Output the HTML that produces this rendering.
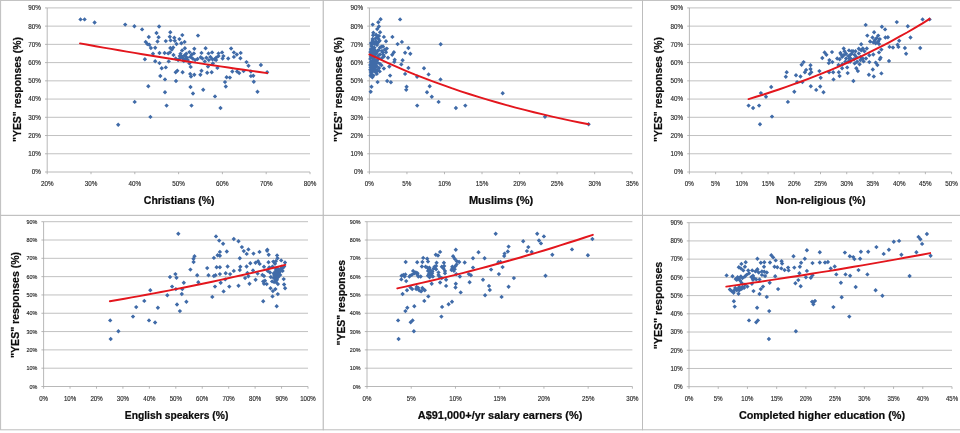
<!DOCTYPE html>
<html lang="en"><head><meta charset="utf-8"><title>"YES" responses vs demographics</title>
<style>html,body{margin:0;padding:0;background:#fff}body{width:960px;height:433px;overflow:hidden}svg{display:block}text{font-family:"Liberation Sans",sans-serif}.tl{fill:#262626;stroke:#262626;stroke-width:.14px}.ti{font-weight:bold;fill:#0c0c0c;font-size:11.2px;stroke:#0c0c0c;stroke-width:.22px}.g{stroke:#bababa;stroke-width:.9;fill:none}.ax{stroke:#a6a6a6;stroke-width:.8;fill:none}.bx{stroke:#bdbdbd;stroke-width:1;fill:#fff}.tr{stroke:#e3161d;stroke-width:1.95;fill:none;stroke-linecap:round;stroke-linejoin:round}.p{fill:#406ba8}</style></head><body>
<svg width="960" height="433" viewBox="0 0 960 433">
<rect width="960" height="433" fill="#fff"/>
<g>
<rect class="bx" x="0.6" y="0.4" width="322.7" height="215.0"/>
<path class="g" d="M47.2 7.90H310.0M47.2 26.13H310.0M47.2 44.37H310.0M47.2 62.60H310.0M47.2 80.83H310.0M47.2 99.07H310.0M47.2 117.30H310.0M47.2 135.53H310.0M47.2 153.77H310.0"/>
<path class="ax" d="M47.2 7.90V172.00M47.2 172.00H310.0M45.0 7.90H47.2M45.0 26.13H47.2M45.0 44.37H47.2M45.0 62.60H47.2M45.0 80.83H47.2M45.0 99.07H47.2M45.0 117.30H47.2M45.0 135.53H47.2M45.0 153.77H47.2M45.0 172.00H47.2M47.20 172.00V174.20M91.00 172.00V174.20M134.80 172.00V174.20M178.60 172.00V174.20M222.40 172.00V174.20M266.20 172.00V174.20M310.00 172.00V174.20"/>
<text class="tl" x="40.8" y="10.28" font-size="6.6" text-anchor="end" textLength="12.6" lengthAdjust="spacingAndGlyphs">90%</text>
<text class="tl" x="40.8" y="28.51" font-size="6.6" text-anchor="end" textLength="12.6" lengthAdjust="spacingAndGlyphs">80%</text>
<text class="tl" x="40.8" y="46.74" font-size="6.6" text-anchor="end" textLength="12.6" lengthAdjust="spacingAndGlyphs">70%</text>
<text class="tl" x="40.8" y="64.98" font-size="6.6" text-anchor="end" textLength="12.6" lengthAdjust="spacingAndGlyphs">60%</text>
<text class="tl" x="40.8" y="83.21" font-size="6.6" text-anchor="end" textLength="12.6" lengthAdjust="spacingAndGlyphs">50%</text>
<text class="tl" x="40.8" y="101.44" font-size="6.6" text-anchor="end" textLength="12.6" lengthAdjust="spacingAndGlyphs">40%</text>
<text class="tl" x="40.8" y="119.68" font-size="6.6" text-anchor="end" textLength="12.6" lengthAdjust="spacingAndGlyphs">30%</text>
<text class="tl" x="40.8" y="137.91" font-size="6.6" text-anchor="end" textLength="12.6" lengthAdjust="spacingAndGlyphs">20%</text>
<text class="tl" x="40.8" y="156.14" font-size="6.6" text-anchor="end" textLength="12.6" lengthAdjust="spacingAndGlyphs">10%</text>
<text class="tl" x="40.8" y="174.38" font-size="6.6" text-anchor="end" textLength="9.1" lengthAdjust="spacingAndGlyphs">0%</text>
<text class="tl" x="47.2" y="185.9" font-size="6.6" text-anchor="middle" textLength="12.6" lengthAdjust="spacingAndGlyphs">20%</text>
<text class="tl" x="91.0" y="185.9" font-size="6.6" text-anchor="middle" textLength="12.6" lengthAdjust="spacingAndGlyphs">30%</text>
<text class="tl" x="134.8" y="185.9" font-size="6.6" text-anchor="middle" textLength="12.6" lengthAdjust="spacingAndGlyphs">40%</text>
<text class="tl" x="178.6" y="185.9" font-size="6.6" text-anchor="middle" textLength="12.6" lengthAdjust="spacingAndGlyphs">50%</text>
<text class="tl" x="222.4" y="185.9" font-size="6.6" text-anchor="middle" textLength="12.6" lengthAdjust="spacingAndGlyphs">60%</text>
<text class="tl" x="266.2" y="185.9" font-size="6.6" text-anchor="middle" textLength="12.6" lengthAdjust="spacingAndGlyphs">70%</text>
<text class="tl" x="310.0" y="185.9" font-size="6.6" text-anchor="middle" textLength="12.6" lengthAdjust="spacingAndGlyphs">80%</text>
<text class="ti" x="179.2" y="203.8" text-anchor="middle" textLength="70.8" lengthAdjust="spacingAndGlyphs">Christians (%)</text>
<text class="ti" transform="translate(20.5 89.5) rotate(-90)" text-anchor="middle" textLength="105.0" lengthAdjust="spacingAndGlyphs">&quot;YES&quot; responses (%)</text>
<path class="p" d="M80.5 17.2l2.2 2.2l-2.2 2.2l-2.2-2.2zM84.6 17.2l2.2 2.2l-2.2 2.2l-2.2-2.2zM94.6 20.3l2.2 2.2l-2.2 2.2l-2.2-2.2zM125.2 22.4l2.2 2.2l-2.2 2.2l-2.2-2.2zM134.4 24.0l2.2 2.2l-2.2 2.2l-2.2-2.2zM142.1 27.2l2.2 2.2l-2.2 2.2l-2.2-2.2zM159.1 24.3l2.2 2.2l-2.2 2.2l-2.2-2.2zM156.5 30.8l2.2 2.2l-2.2 2.2l-2.2-2.2zM170.3 30.1l2.2 2.2l-2.2 2.2l-2.2-2.2zM148.8 34.8l2.2 2.2l-2.2 2.2l-2.2-2.2zM158.6 35.0l2.2 2.2l-2.2 2.2l-2.2-2.2zM169.8 34.5l2.2 2.2l-2.2 2.2l-2.2-2.2zM174.3 35.6l2.2 2.2l-2.2 2.2l-2.2-2.2zM145.7 39.7l2.2 2.2l-2.2 2.2l-2.2-2.2zM157.5 39.3l2.2 2.2l-2.2 2.2l-2.2-2.2zM165.8 38.9l2.2 2.2l-2.2 2.2l-2.2-2.2zM170.6 38.2l2.2 2.2l-2.2 2.2l-2.2-2.2zM174.8 38.5l2.2 2.2l-2.2 2.2l-2.2-2.2zM147.3 41.8l2.2 2.2l-2.2 2.2l-2.2-2.2zM149.3 42.6l2.2 2.2l-2.2 2.2l-2.2-2.2zM150.9 45.8l2.2 2.2l-2.2 2.2l-2.2-2.2zM155.2 45.5l2.2 2.2l-2.2 2.2l-2.2-2.2zM170.3 45.8l2.2 2.2l-2.2 2.2l-2.2-2.2zM173.2 45.3l2.2 2.2l-2.2 2.2l-2.2-2.2zM171.9 47.4l2.2 2.2l-2.2 2.2l-2.2-2.2zM153.0 51.5l2.2 2.2l-2.2 2.2l-2.2-2.2zM159.5 50.8l2.2 2.2l-2.2 2.2l-2.2-2.2zM164.6 50.8l2.2 2.2l-2.2 2.2l-2.2-2.2zM168.2 51.2l2.2 2.2l-2.2 2.2l-2.2-2.2zM170.0 50.2l2.2 2.2l-2.2 2.2l-2.2-2.2zM173.5 52.8l2.2 2.2l-2.2 2.2l-2.2-2.2zM144.9 57.1l2.2 2.2l-2.2 2.2l-2.2-2.2zM155.2 59.1l2.2 2.2l-2.2 2.2l-2.2-2.2zM159.5 60.9l2.2 2.2l-2.2 2.2l-2.2-2.2zM168.7 59.2l2.2 2.2l-2.2 2.2l-2.2-2.2zM161.7 66.0l2.2 2.2l-2.2 2.2l-2.2-2.2zM165.8 65.2l2.2 2.2l-2.2 2.2l-2.2-2.2zM179.4 36.9l2.2 2.2l-2.2 2.2l-2.2-2.2zM182.3 32.9l2.2 2.2l-2.2 2.2l-2.2-2.2zM198.0 33.4l2.2 2.2l-2.2 2.2l-2.2-2.2zM176.5 41.8l2.2 2.2l-2.2 2.2l-2.2-2.2zM181.3 41.0l2.2 2.2l-2.2 2.2l-2.2-2.2zM184.6 39.7l2.2 2.2l-2.2 2.2l-2.2-2.2zM184.9 46.1l2.2 2.2l-2.2 2.2l-2.2-2.2zM194.3 46.6l2.2 2.2l-2.2 2.2l-2.2-2.2zM205.6 46.1l2.2 2.2l-2.2 2.2l-2.2-2.2zM179.7 53.9l2.2 2.2l-2.2 2.2l-2.2-2.2zM182.1 55.0l2.2 2.2l-2.2 2.2l-2.2-2.2zM186.2 54.7l2.2 2.2l-2.2 2.2l-2.2-2.2zM191.8 52.3l2.2 2.2l-2.2 2.2l-2.2-2.2zM193.9 51.2l2.2 2.2l-2.2 2.2l-2.2-2.2zM201.5 50.7l2.2 2.2l-2.2 2.2l-2.2-2.2zM208.5 51.2l2.2 2.2l-2.2 2.2l-2.2-2.2zM212.1 50.2l2.2 2.2l-2.2 2.2l-2.2-2.2zM218.5 51.2l2.2 2.2l-2.2 2.2l-2.2-2.2zM222.1 50.2l2.2 2.2l-2.2 2.2l-2.2-2.2zM231.1 46.3l2.2 2.2l-2.2 2.2l-2.2-2.2zM233.9 50.2l2.2 2.2l-2.2 2.2l-2.2-2.2zM240.7 50.7l2.2 2.2l-2.2 2.2l-2.2-2.2zM236.8 52.3l2.2 2.2l-2.2 2.2l-2.2-2.2zM240.4 56.0l2.2 2.2l-2.2 2.2l-2.2-2.2zM178.1 57.9l2.2 2.2l-2.2 2.2l-2.2-2.2zM182.9 56.3l2.2 2.2l-2.2 2.2l-2.2-2.2zM187.8 57.9l2.2 2.2l-2.2 2.2l-2.2-2.2zM192.6 56.3l2.2 2.2l-2.2 2.2l-2.2-2.2zM197.5 56.8l2.2 2.2l-2.2 2.2l-2.2-2.2zM200.7 55.0l2.2 2.2l-2.2 2.2l-2.2-2.2zM204.8 59.2l2.2 2.2l-2.2 2.2l-2.2-2.2zM208.8 57.9l2.2 2.2l-2.2 2.2l-2.2-2.2zM212.4 57.1l2.2 2.2l-2.2 2.2l-2.2-2.2zM216.1 55.5l2.2 2.2l-2.2 2.2l-2.2-2.2zM222.6 56.3l2.2 2.2l-2.2 2.2l-2.2-2.2zM216.1 57.9l2.2 2.2l-2.2 2.2l-2.2-2.2zM189.4 61.2l2.2 2.2l-2.2 2.2l-2.2-2.2zM190.7 64.7l2.2 2.2l-2.2 2.2l-2.2-2.2zM208.0 64.4l2.2 2.2l-2.2 2.2l-2.2-2.2zM212.9 61.2l2.2 2.2l-2.2 2.2l-2.2-2.2zM217.4 65.7l2.2 2.2l-2.2 2.2l-2.2-2.2zM246.5 59.9l2.2 2.2l-2.2 2.2l-2.2-2.2zM248.5 63.6l2.2 2.2l-2.2 2.2l-2.2-2.2zM260.9 62.8l2.2 2.2l-2.2 2.2l-2.2-2.2zM177.3 68.5l2.2 2.2l-2.2 2.2l-2.2-2.2zM175.7 70.1l2.2 2.2l-2.2 2.2l-2.2-2.2zM182.6 70.1l2.2 2.2l-2.2 2.2l-2.2-2.2zM201.5 68.5l2.2 2.2l-2.2 2.2l-2.2-2.2zM190.2 71.7l2.2 2.2l-2.2 2.2l-2.2-2.2zM194.3 72.5l2.2 2.2l-2.2 2.2l-2.2-2.2zM200.4 72.5l2.2 2.2l-2.2 2.2l-2.2-2.2zM207.2 70.6l2.2 2.2l-2.2 2.2l-2.2-2.2zM211.7 70.1l2.2 2.2l-2.2 2.2l-2.2-2.2zM232.3 69.3l2.2 2.2l-2.2 2.2l-2.2-2.2zM237.1 69.3l2.2 2.2l-2.2 2.2l-2.2-2.2zM239.2 70.9l2.2 2.2l-2.2 2.2l-2.2-2.2zM243.6 68.9l2.2 2.2l-2.2 2.2l-2.2-2.2zM250.9 69.3l2.2 2.2l-2.2 2.2l-2.2-2.2zM267.1 70.1l2.2 2.2l-2.2 2.2l-2.2-2.2zM160.3 73.8l2.2 2.2l-2.2 2.2l-2.2-2.2zM165.0 77.2l2.2 2.2l-2.2 2.2l-2.2-2.2zM148.3 84.0l2.2 2.2l-2.2 2.2l-2.2-2.2zM165.0 90.0l2.2 2.2l-2.2 2.2l-2.2-2.2zM134.7 99.7l2.2 2.2l-2.2 2.2l-2.2-2.2zM166.6 103.4l2.2 2.2l-2.2 2.2l-2.2-2.2zM150.4 114.7l2.2 2.2l-2.2 2.2l-2.2-2.2zM118.2 122.5l2.2 2.2l-2.2 2.2l-2.2-2.2zM176.0 78.8l2.2 2.2l-2.2 2.2l-2.2-2.2zM190.5 84.8l2.2 2.2l-2.2 2.2l-2.2-2.2zM193.0 91.3l2.2 2.2l-2.2 2.2l-2.2-2.2zM203.2 87.5l2.2 2.2l-2.2 2.2l-2.2-2.2zM215.0 94.2l2.2 2.2l-2.2 2.2l-2.2-2.2zM191.5 103.4l2.2 2.2l-2.2 2.2l-2.2-2.2zM220.5 105.8l2.2 2.2l-2.2 2.2l-2.2-2.2zM225.8 84.3l2.2 2.2l-2.2 2.2l-2.2-2.2zM225.0 79.9l2.2 2.2l-2.2 2.2l-2.2-2.2zM226.6 75.1l2.2 2.2l-2.2 2.2l-2.2-2.2zM229.9 75.4l2.2 2.2l-2.2 2.2l-2.2-2.2zM253.8 79.6l2.2 2.2l-2.2 2.2l-2.2-2.2zM257.5 89.6l2.2 2.2l-2.2 2.2l-2.2-2.2zM250.9 73.9l2.2 2.2l-2.2 2.2l-2.2-2.2zM253.3 73.5l2.2 2.2l-2.2 2.2l-2.2-2.2zM191.0 74.3l2.2 2.2l-2.2 2.2l-2.2-2.2zM181.3 53.9l2.2 2.2l-2.2 2.2l-2.2-2.2zM184.6 53.1l2.2 2.2l-2.2 2.2l-2.2-2.2zM187.0 55.5l2.2 2.2l-2.2 2.2l-2.2-2.2zM183.8 58.8l2.2 2.2l-2.2 2.2l-2.2-2.2zM182.1 48.2l2.2 2.2l-2.2 2.2l-2.2-2.2zM180.5 51.5l2.2 2.2l-2.2 2.2l-2.2-2.2zM185.4 57.1l2.2 2.2l-2.2 2.2l-2.2-2.2zM190.2 54.7l2.2 2.2l-2.2 2.2l-2.2-2.2zM195.1 57.9l2.2 2.2l-2.2 2.2l-2.2-2.2zM179.7 56.3l2.2 2.2l-2.2 2.2l-2.2-2.2zM202.4 56.3l2.2 2.2l-2.2 2.2l-2.2-2.2zM206.4 55.5l2.2 2.2l-2.2 2.2l-2.2-2.2zM210.4 54.7l2.2 2.2l-2.2 2.2l-2.2-2.2zM214.5 57.1l2.2 2.2l-2.2 2.2l-2.2-2.2zM186.2 51.5l2.2 2.2l-2.2 2.2l-2.2-2.2zM189.4 49.9l2.2 2.2l-2.2 2.2l-2.2-2.2zM175.7 56.3l2.2 2.2l-2.2 2.2l-2.2-2.2zM223.4 53.9l2.2 2.2l-2.2 2.2l-2.2-2.2zM228.2 56.3l2.2 2.2l-2.2 2.2l-2.2-2.2zM233.9 54.7l2.2 2.2l-2.2 2.2l-2.2-2.2zM218.5 53.9l2.2 2.2l-2.2 2.2l-2.2-2.2z"/>
<path class="tr" d="M80.0 43.4L87.8 44.8L95.6 46.2L103.4 47.6L111.2 48.9L119.0 50.2L126.8 51.6L134.6 52.9L142.4 54.2L150.2 55.5L158.0 56.7L165.8 58.0L173.6 59.2L181.4 60.5L189.2 61.7L197.0 62.9L204.8 64.1L212.6 65.2L220.4 66.4L228.2 67.5L236.0 68.7L243.8 69.8L251.6 70.9L259.4 72.0L267.2 73.1"/>
</g>
<g>
<rect class="bx" x="323.3" y="0.4" width="319.2" height="215.0"/>
<path class="g" d="M369.4 7.90H632.2M369.4 26.13H632.2M369.4 44.37H632.2M369.4 62.60H632.2M369.4 80.83H632.2M369.4 99.07H632.2M369.4 117.30H632.2M369.4 135.53H632.2M369.4 153.77H632.2"/>
<path class="ax" d="M369.4 7.90V172.00M369.4 172.00H632.2M367.2 7.90H369.4M367.2 26.13H369.4M367.2 44.37H369.4M367.2 62.60H369.4M367.2 80.83H369.4M367.2 99.07H369.4M367.2 117.30H369.4M367.2 135.53H369.4M367.2 153.77H369.4M367.2 172.00H369.4M369.40 172.00V174.20M406.94 172.00V174.20M444.49 172.00V174.20M482.03 172.00V174.20M519.57 172.00V174.20M557.11 172.00V174.20M594.66 172.00V174.20M632.20 172.00V174.20"/>
<text class="tl" x="363.0" y="10.28" font-size="6.6" text-anchor="end" textLength="12.6" lengthAdjust="spacingAndGlyphs">90%</text>
<text class="tl" x="363.0" y="28.51" font-size="6.6" text-anchor="end" textLength="12.6" lengthAdjust="spacingAndGlyphs">80%</text>
<text class="tl" x="363.0" y="46.74" font-size="6.6" text-anchor="end" textLength="12.6" lengthAdjust="spacingAndGlyphs">70%</text>
<text class="tl" x="363.0" y="64.98" font-size="6.6" text-anchor="end" textLength="12.6" lengthAdjust="spacingAndGlyphs">60%</text>
<text class="tl" x="363.0" y="83.21" font-size="6.6" text-anchor="end" textLength="12.6" lengthAdjust="spacingAndGlyphs">50%</text>
<text class="tl" x="363.0" y="101.44" font-size="6.6" text-anchor="end" textLength="12.6" lengthAdjust="spacingAndGlyphs">40%</text>
<text class="tl" x="363.0" y="119.68" font-size="6.6" text-anchor="end" textLength="12.6" lengthAdjust="spacingAndGlyphs">30%</text>
<text class="tl" x="363.0" y="137.91" font-size="6.6" text-anchor="end" textLength="12.6" lengthAdjust="spacingAndGlyphs">20%</text>
<text class="tl" x="363.0" y="156.14" font-size="6.6" text-anchor="end" textLength="12.6" lengthAdjust="spacingAndGlyphs">10%</text>
<text class="tl" x="363.0" y="174.38" font-size="6.6" text-anchor="end" textLength="9.1" lengthAdjust="spacingAndGlyphs">0%</text>
<text class="tl" x="369.4" y="185.9" font-size="6.6" text-anchor="middle" textLength="9.1" lengthAdjust="spacingAndGlyphs">0%</text>
<text class="tl" x="406.9" y="185.9" font-size="6.6" text-anchor="middle" textLength="9.1" lengthAdjust="spacingAndGlyphs">5%</text>
<text class="tl" x="444.5" y="185.9" font-size="6.6" text-anchor="middle" textLength="12.6" lengthAdjust="spacingAndGlyphs">10%</text>
<text class="tl" x="482.0" y="185.9" font-size="6.6" text-anchor="middle" textLength="12.6" lengthAdjust="spacingAndGlyphs">15%</text>
<text class="tl" x="519.6" y="185.9" font-size="6.6" text-anchor="middle" textLength="12.6" lengthAdjust="spacingAndGlyphs">20%</text>
<text class="tl" x="557.1" y="185.9" font-size="6.6" text-anchor="middle" textLength="12.6" lengthAdjust="spacingAndGlyphs">25%</text>
<text class="tl" x="594.7" y="185.9" font-size="6.6" text-anchor="middle" textLength="12.6" lengthAdjust="spacingAndGlyphs">30%</text>
<text class="tl" x="632.2" y="185.9" font-size="6.6" text-anchor="middle" textLength="12.6" lengthAdjust="spacingAndGlyphs">35%</text>
<text class="ti" x="501.1" y="203.8" text-anchor="middle" textLength="64.3" lengthAdjust="spacingAndGlyphs">Muslims (%)</text>
<text class="ti" transform="translate(342.4 89.5) rotate(-90)" text-anchor="middle" textLength="105.0" lengthAdjust="spacingAndGlyphs">&quot;YES&quot; responses (%)</text>
<path class="p" d="M440.7 42.1l2.2 2.2l-2.2 2.2l-2.2-2.2zM408.4 45.8l2.2 2.2l-2.2 2.2l-2.2-2.2zM410.3 51.5l2.2 2.2l-2.2 2.2l-2.2-2.2zM408.4 65.7l2.2 2.2l-2.2 2.2l-2.2-2.2zM424.0 66.0l2.2 2.2l-2.2 2.2l-2.2-2.2zM428.6 72.2l2.2 2.2l-2.2 2.2l-2.2-2.2zM380.6 17.0l2.2 2.2l-2.2 2.2l-2.2-2.2zM400.1 17.2l2.2 2.2l-2.2 2.2l-2.2-2.2zM378.3 20.1l2.2 2.2l-2.2 2.2l-2.2-2.2zM372.7 22.4l2.2 2.2l-2.2 2.2l-2.2-2.2zM378.9 24.3l2.2 2.2l-2.2 2.2l-2.2-2.2zM377.2 26.9l2.2 2.2l-2.2 2.2l-2.2-2.2zM380.1 30.1l2.2 2.2l-2.2 2.2l-2.2-2.2zM373.3 30.5l2.2 2.2l-2.2 2.2l-2.2-2.2zM373.1 33.0l2.2 2.2l-2.2 2.2l-2.2-2.2zM378.9 33.8l2.2 2.2l-2.2 2.2l-2.2-2.2zM383.9 34.7l2.2 2.2l-2.2 2.2l-2.2-2.2zM392.4 34.7l2.2 2.2l-2.2 2.2l-2.2-2.2zM378.5 36.7l2.2 2.2l-2.2 2.2l-2.2-2.2zM386.0 39.1l2.2 2.2l-2.2 2.2l-2.2-2.2zM401.9 39.7l2.2 2.2l-2.2 2.2l-2.2-2.2zM397.6 41.9l2.2 2.2l-2.2 2.2l-2.2-2.2zM372.7 38.4l2.2 2.2l-2.2 2.2l-2.2-2.2zM376.0 39.2l2.2 2.2l-2.2 2.2l-2.2-2.2zM371.0 40.9l2.2 2.2l-2.2 2.2l-2.2-2.2zM374.3 41.7l2.2 2.2l-2.2 2.2l-2.2-2.2zM377.6 40.9l2.2 2.2l-2.2 2.2l-2.2-2.2zM371.8 44.2l2.2 2.2l-2.2 2.2l-2.2-2.2zM381.4 44.6l2.2 2.2l-2.2 2.2l-2.2-2.2zM405.1 50.5l2.2 2.2l-2.2 2.2l-2.2-2.2zM386.8 46.4l2.2 2.2l-2.2 2.2l-2.2-2.2zM393.9 50.1l2.2 2.2l-2.2 2.2l-2.2-2.2zM392.2 52.6l2.2 2.2l-2.2 2.2l-2.2-2.2zM382.6 50.1l2.2 2.2l-2.2 2.2l-2.2-2.2zM386.0 50.1l2.2 2.2l-2.2 2.2l-2.2-2.2zM371.0 46.8l2.2 2.2l-2.2 2.2l-2.2-2.2zM374.3 47.6l2.2 2.2l-2.2 2.2l-2.2-2.2zM377.6 48.5l2.2 2.2l-2.2 2.2l-2.2-2.2zM383.9 54.3l2.2 2.2l-2.2 2.2l-2.2-2.2zM388.0 55.5l2.2 2.2l-2.2 2.2l-2.2-2.2zM394.7 57.6l2.2 2.2l-2.2 2.2l-2.2-2.2zM394.3 59.7l2.2 2.2l-2.2 2.2l-2.2-2.2zM402.6 58.0l2.2 2.2l-2.2 2.2l-2.2-2.2zM401.3 62.2l2.2 2.2l-2.2 2.2l-2.2-2.2zM371.0 50.9l2.2 2.2l-2.2 2.2l-2.2-2.2zM374.3 52.6l2.2 2.2l-2.2 2.2l-2.2-2.2zM378.5 53.4l2.2 2.2l-2.2 2.2l-2.2-2.2zM371.0 55.1l2.2 2.2l-2.2 2.2l-2.2-2.2zM374.3 56.8l2.2 2.2l-2.2 2.2l-2.2-2.2zM377.6 57.6l2.2 2.2l-2.2 2.2l-2.2-2.2zM371.0 59.3l2.2 2.2l-2.2 2.2l-2.2-2.2zM374.3 60.1l2.2 2.2l-2.2 2.2l-2.2-2.2zM376.8 60.9l2.2 2.2l-2.2 2.2l-2.2-2.2zM381.4 63.0l2.2 2.2l-2.2 2.2l-2.2-2.2zM389.3 64.3l2.2 2.2l-2.2 2.2l-2.2-2.2zM383.9 66.3l2.2 2.2l-2.2 2.2l-2.2-2.2zM371.0 63.4l2.2 2.2l-2.2 2.2l-2.2-2.2zM373.5 65.1l2.2 2.2l-2.2 2.2l-2.2-2.2zM370.3 67.6l2.2 2.2l-2.2 2.2l-2.2-2.2zM372.7 69.2l2.2 2.2l-2.2 2.2l-2.2-2.2zM376.0 70.1l2.2 2.2l-2.2 2.2l-2.2-2.2zM379.7 69.2l2.2 2.2l-2.2 2.2l-2.2-2.2zM371.0 71.7l2.2 2.2l-2.2 2.2l-2.2-2.2zM373.5 73.4l2.2 2.2l-2.2 2.2l-2.2-2.2zM376.8 71.7l2.2 2.2l-2.2 2.2l-2.2-2.2zM390.1 73.4l2.2 2.2l-2.2 2.2l-2.2-2.2zM405.1 71.7l2.2 2.2l-2.2 2.2l-2.2-2.2zM372.3 75.1l2.2 2.2l-2.2 2.2l-2.2-2.2zM417.1 74.6l2.2 2.2l-2.2 2.2l-2.2-2.2zM440.5 77.2l2.2 2.2l-2.2 2.2l-2.2-2.2zM377.6 79.9l2.2 2.2l-2.2 2.2l-2.2-2.2zM387.2 78.8l2.2 2.2l-2.2 2.2l-2.2-2.2zM390.9 80.1l2.2 2.2l-2.2 2.2l-2.2-2.2zM371.5 84.5l2.2 2.2l-2.2 2.2l-2.2-2.2zM370.7 89.6l2.2 2.2l-2.2 2.2l-2.2-2.2zM406.6 84.5l2.2 2.2l-2.2 2.2l-2.2-2.2zM406.2 87.5l2.2 2.2l-2.2 2.2l-2.2-2.2zM429.7 84.0l2.2 2.2l-2.2 2.2l-2.2-2.2zM427.0 90.0l2.2 2.2l-2.2 2.2l-2.2-2.2zM431.8 94.5l2.2 2.2l-2.2 2.2l-2.2-2.2zM438.6 99.7l2.2 2.2l-2.2 2.2l-2.2-2.2zM417.2 103.4l2.2 2.2l-2.2 2.2l-2.2-2.2zM455.9 105.8l2.2 2.2l-2.2 2.2l-2.2-2.2zM465.3 103.4l2.2 2.2l-2.2 2.2l-2.2-2.2zM502.7 91.1l2.2 2.2l-2.2 2.2l-2.2-2.2zM545.0 114.5l2.2 2.2l-2.2 2.2l-2.2-2.2zM588.6 122.1l2.2 2.2l-2.2 2.2l-2.2-2.2zM370.4 49.9l2.2 2.2l-2.2 2.2l-2.2-2.2zM372.6 49.9l2.2 2.2l-2.2 2.2l-2.2-2.2zM374.4 49.2l2.2 2.2l-2.2 2.2l-2.2-2.2zM372.4 52.6l2.2 2.2l-2.2 2.2l-2.2-2.2zM375.1 52.0l2.2 2.2l-2.2 2.2l-2.2-2.2zM370.8 53.8l2.2 2.2l-2.2 2.2l-2.2-2.2zM372.8 54.6l2.2 2.2l-2.2 2.2l-2.2-2.2zM375.0 54.4l2.2 2.2l-2.2 2.2l-2.2-2.2zM370.3 56.7l2.2 2.2l-2.2 2.2l-2.2-2.2zM372.8 56.2l2.2 2.2l-2.2 2.2l-2.2-2.2zM372.9 59.1l2.2 2.2l-2.2 2.2l-2.2-2.2zM375.2 58.5l2.2 2.2l-2.2 2.2l-2.2-2.2zM371.0 60.7l2.2 2.2l-2.2 2.2l-2.2-2.2zM373.1 61.3l2.2 2.2l-2.2 2.2l-2.2-2.2zM370.3 62.7l2.2 2.2l-2.2 2.2l-2.2-2.2zM373.2 62.9l2.2 2.2l-2.2 2.2l-2.2-2.2zM374.6 63.0l2.2 2.2l-2.2 2.2l-2.2-2.2zM370.6 65.0l2.2 2.2l-2.2 2.2l-2.2-2.2zM375.0 65.7l2.2 2.2l-2.2 2.2l-2.2-2.2zM372.9 67.0l2.2 2.2l-2.2 2.2l-2.2-2.2zM375.3 67.9l2.2 2.2l-2.2 2.2l-2.2-2.2zM370.8 69.9l2.2 2.2l-2.2 2.2l-2.2-2.2zM374.6 69.1l2.2 2.2l-2.2 2.2l-2.2-2.2zM372.3 72.2l2.2 2.2l-2.2 2.2l-2.2-2.2zM370.6 73.6l2.2 2.2l-2.2 2.2l-2.2-2.2zM376.1 32.5l2.2 2.2l-2.2 2.2l-2.2-2.2zM372.6 36.8l2.2 2.2l-2.2 2.2l-2.2-2.2zM374.4 40.3l2.2 2.2l-2.2 2.2l-2.2-2.2zM377.8 35.1l2.2 2.2l-2.2 2.2l-2.2-2.2zM379.6 38.6l2.2 2.2l-2.2 2.2l-2.2-2.2zM377.0 42.9l2.2 2.2l-2.2 2.2l-2.2-2.2zM374.4 45.5l2.2 2.2l-2.2 2.2l-2.2-2.2zM378.7 48.1l2.2 2.2l-2.2 2.2l-2.2-2.2zM380.0 45.3l2.2 2.2l-2.2 2.2l-2.2-2.2zM383.0 44.3l2.2 2.2l-2.2 2.2l-2.2-2.2zM382.0 48.8l2.2 2.2l-2.2 2.2l-2.2-2.2zM385.0 47.3l2.2 2.2l-2.2 2.2l-2.2-2.2zM376.5 50.8l2.2 2.2l-2.2 2.2l-2.2-2.2zM380.0 52.3l2.2 2.2l-2.2 2.2l-2.2-2.2zM383.5 52.8l2.2 2.2l-2.2 2.2l-2.2-2.2zM378.0 55.3l2.2 2.2l-2.2 2.2l-2.2-2.2zM381.5 56.3l2.2 2.2l-2.2 2.2l-2.2-2.2zM377.5 60.3l2.2 2.2l-2.2 2.2l-2.2-2.2zM380.0 61.8l2.2 2.2l-2.2 2.2l-2.2-2.2zM376.5 63.8l2.2 2.2l-2.2 2.2l-2.2-2.2zM379.0 65.8l2.2 2.2l-2.2 2.2l-2.2-2.2zM377.0 68.3l2.2 2.2l-2.2 2.2l-2.2-2.2zM375.5 36.3l2.2 2.2l-2.2 2.2l-2.2-2.2zM376.0 40.8l2.2 2.2l-2.2 2.2l-2.2-2.2zM379.0 39.3l2.2 2.2l-2.2 2.2l-2.2-2.2zM371.5 42.8l2.2 2.2l-2.2 2.2l-2.2-2.2zM373.5 46.3l2.2 2.2l-2.2 2.2l-2.2-2.2zM371.0 47.8l2.2 2.2l-2.2 2.2l-2.2-2.2z"/>
<path class="tr" d="M369.4 54.4L378.5 58.7L387.7 62.9L396.8 66.9L405.9 70.8L415.1 74.6L424.2 78.1L433.4 81.6L442.5 84.9L451.6 88.2L460.8 91.3L469.9 94.2L479.1 97.1L488.2 99.9L497.3 102.5L506.5 105.1L515.6 107.6L524.7 109.9L533.9 112.2L543.0 114.4L552.2 116.6L561.3 118.6L570.4 120.6L579.6 122.5L588.7 124.3"/>
</g>
<g>
<rect class="bx" x="642.5" y="0.4" width="319.5" height="215.0"/>
<path class="g" d="M689.4 7.90H951.6M689.4 26.13H951.6M689.4 44.37H951.6M689.4 62.60H951.6M689.4 80.83H951.6M689.4 99.07H951.6M689.4 117.30H951.6M689.4 135.53H951.6M689.4 153.77H951.6"/>
<path class="ax" d="M689.4 7.90V172.00M689.4 172.00H951.6M687.2 7.90H689.4M687.2 26.13H689.4M687.2 44.37H689.4M687.2 62.60H689.4M687.2 80.83H689.4M687.2 99.07H689.4M687.2 117.30H689.4M687.2 135.53H689.4M687.2 153.77H689.4M687.2 172.00H689.4M689.40 172.00V174.20M715.62 172.00V174.20M741.84 172.00V174.20M768.06 172.00V174.20M794.28 172.00V174.20M820.50 172.00V174.20M846.72 172.00V174.20M872.94 172.00V174.20M899.16 172.00V174.20M925.38 172.00V174.20M951.60 172.00V174.20"/>
<text class="tl" x="683.0" y="10.28" font-size="6.6" text-anchor="end" textLength="12.6" lengthAdjust="spacingAndGlyphs">90%</text>
<text class="tl" x="683.0" y="28.51" font-size="6.6" text-anchor="end" textLength="12.6" lengthAdjust="spacingAndGlyphs">80%</text>
<text class="tl" x="683.0" y="46.74" font-size="6.6" text-anchor="end" textLength="12.6" lengthAdjust="spacingAndGlyphs">70%</text>
<text class="tl" x="683.0" y="64.98" font-size="6.6" text-anchor="end" textLength="12.6" lengthAdjust="spacingAndGlyphs">60%</text>
<text class="tl" x="683.0" y="83.21" font-size="6.6" text-anchor="end" textLength="12.6" lengthAdjust="spacingAndGlyphs">50%</text>
<text class="tl" x="683.0" y="101.44" font-size="6.6" text-anchor="end" textLength="12.6" lengthAdjust="spacingAndGlyphs">40%</text>
<text class="tl" x="683.0" y="119.68" font-size="6.6" text-anchor="end" textLength="12.6" lengthAdjust="spacingAndGlyphs">30%</text>
<text class="tl" x="683.0" y="137.91" font-size="6.6" text-anchor="end" textLength="12.6" lengthAdjust="spacingAndGlyphs">20%</text>
<text class="tl" x="683.0" y="156.14" font-size="6.6" text-anchor="end" textLength="12.6" lengthAdjust="spacingAndGlyphs">10%</text>
<text class="tl" x="683.0" y="174.38" font-size="6.6" text-anchor="end" textLength="9.1" lengthAdjust="spacingAndGlyphs">0%</text>
<text class="tl" x="689.4" y="185.9" font-size="6.6" text-anchor="middle" textLength="9.1" lengthAdjust="spacingAndGlyphs">0%</text>
<text class="tl" x="715.6" y="185.9" font-size="6.6" text-anchor="middle" textLength="9.1" lengthAdjust="spacingAndGlyphs">5%</text>
<text class="tl" x="741.8" y="185.9" font-size="6.6" text-anchor="middle" textLength="12.6" lengthAdjust="spacingAndGlyphs">10%</text>
<text class="tl" x="768.1" y="185.9" font-size="6.6" text-anchor="middle" textLength="12.6" lengthAdjust="spacingAndGlyphs">15%</text>
<text class="tl" x="794.3" y="185.9" font-size="6.6" text-anchor="middle" textLength="12.6" lengthAdjust="spacingAndGlyphs">20%</text>
<text class="tl" x="820.5" y="185.9" font-size="6.6" text-anchor="middle" textLength="12.6" lengthAdjust="spacingAndGlyphs">25%</text>
<text class="tl" x="846.7" y="185.9" font-size="6.6" text-anchor="middle" textLength="12.6" lengthAdjust="spacingAndGlyphs">30%</text>
<text class="tl" x="872.9" y="185.9" font-size="6.6" text-anchor="middle" textLength="12.6" lengthAdjust="spacingAndGlyphs">35%</text>
<text class="tl" x="899.2" y="185.9" font-size="6.6" text-anchor="middle" textLength="12.6" lengthAdjust="spacingAndGlyphs">40%</text>
<text class="tl" x="925.4" y="185.9" font-size="6.6" text-anchor="middle" textLength="12.6" lengthAdjust="spacingAndGlyphs">45%</text>
<text class="tl" x="951.6" y="185.9" font-size="6.6" text-anchor="middle" textLength="12.6" lengthAdjust="spacingAndGlyphs">50%</text>
<text class="ti" x="820.8" y="203.8" text-anchor="middle" textLength="89.4" lengthAdjust="spacingAndGlyphs">Non-religious (%)</text>
<text class="ti" transform="translate(662.4 89.5) rotate(-90)" text-anchor="middle" textLength="105.0" lengthAdjust="spacingAndGlyphs">&quot;YES&quot; responses (%)</text>
<path class="p" d="M843.7 46.3l2.2 2.2l-2.2 2.2l-2.2-2.2zM832.0 49.9l2.2 2.2l-2.2 2.2l-2.2-2.2zM824.6 50.2l2.2 2.2l-2.2 2.2l-2.2-2.2zM826.4 52.6l2.2 2.2l-2.2 2.2l-2.2-2.2zM822.3 55.8l2.2 2.2l-2.2 2.2l-2.2-2.2zM840.4 50.7l2.2 2.2l-2.2 2.2l-2.2-2.2zM846.1 51.5l2.2 2.2l-2.2 2.2l-2.2-2.2zM842.1 54.7l2.2 2.2l-2.2 2.2l-2.2-2.2zM846.1 56.3l2.2 2.2l-2.2 2.2l-2.2-2.2zM839.6 57.1l2.2 2.2l-2.2 2.2l-2.2-2.2zM829.4 57.9l2.2 2.2l-2.2 2.2l-2.2-2.2zM832.4 59.9l2.2 2.2l-2.2 2.2l-2.2-2.2zM828.8 60.9l2.2 2.2l-2.2 2.2l-2.2-2.2zM803.6 59.9l2.2 2.2l-2.2 2.2l-2.2-2.2zM801.6 62.5l2.2 2.2l-2.2 2.2l-2.2-2.2zM810.5 63.1l2.2 2.2l-2.2 2.2l-2.2-2.2zM838.5 62.8l2.2 2.2l-2.2 2.2l-2.2-2.2zM842.4 62.0l2.2 2.2l-2.2 2.2l-2.2-2.2zM847.2 65.2l2.2 2.2l-2.2 2.2l-2.2-2.2zM810.5 66.8l2.2 2.2l-2.2 2.2l-2.2-2.2zM806.1 67.7l2.2 2.2l-2.2 2.2l-2.2-2.2zM804.9 70.1l2.2 2.2l-2.2 2.2l-2.2-2.2zM811.3 70.1l2.2 2.2l-2.2 2.2l-2.2-2.2zM819.4 68.9l2.2 2.2l-2.2 2.2l-2.2-2.2zM829.1 70.1l2.2 2.2l-2.2 2.2l-2.2-2.2zM833.2 70.1l2.2 2.2l-2.2 2.2l-2.2-2.2zM838.8 70.1l2.2 2.2l-2.2 2.2l-2.2-2.2zM847.7 70.9l2.2 2.2l-2.2 2.2l-2.2-2.2zM786.7 70.1l2.2 2.2l-2.2 2.2l-2.2-2.2zM809.7 71.7l2.2 2.2l-2.2 2.2l-2.2-2.2zM922.6 17.2l2.2 2.2l-2.2 2.2l-2.2-2.2zM929.6 17.2l2.2 2.2l-2.2 2.2l-2.2-2.2zM896.8 19.9l2.2 2.2l-2.2 2.2l-2.2-2.2zM865.7 22.7l2.2 2.2l-2.2 2.2l-2.2-2.2zM881.9 24.5l2.2 2.2l-2.2 2.2l-2.2-2.2zM885.1 27.2l2.2 2.2l-2.2 2.2l-2.2-2.2zM907.8 24.0l2.2 2.2l-2.2 2.2l-2.2-2.2zM874.1 30.1l2.2 2.2l-2.2 2.2l-2.2-2.2zM867.3 33.4l2.2 2.2l-2.2 2.2l-2.2-2.2zM878.2 33.4l2.2 2.2l-2.2 2.2l-2.2-2.2zM910.5 35.3l2.2 2.2l-2.2 2.2l-2.2-2.2zM885.4 35.3l2.2 2.2l-2.2 2.2l-2.2-2.2zM887.9 35.0l2.2 2.2l-2.2 2.2l-2.2-2.2zM874.9 37.7l2.2 2.2l-2.2 2.2l-2.2-2.2zM870.1 39.3l2.2 2.2l-2.2 2.2l-2.2-2.2zM878.2 39.3l2.2 2.2l-2.2 2.2l-2.2-2.2zM899.2 38.5l2.2 2.2l-2.2 2.2l-2.2-2.2zM861.2 42.1l2.2 2.2l-2.2 2.2l-2.2-2.2zM879.0 41.8l2.2 2.2l-2.2 2.2l-2.2-2.2zM897.6 42.6l2.2 2.2l-2.2 2.2l-2.2-2.2zM898.4 44.7l2.2 2.2l-2.2 2.2l-2.2-2.2zM889.5 44.7l2.2 2.2l-2.2 2.2l-2.2-2.2zM893.0 45.3l2.2 2.2l-2.2 2.2l-2.2-2.2zM904.9 45.8l2.2 2.2l-2.2 2.2l-2.2-2.2zM920.2 45.8l2.2 2.2l-2.2 2.2l-2.2-2.2zM858.8 46.6l2.2 2.2l-2.2 2.2l-2.2-2.2zM862.8 46.3l2.2 2.2l-2.2 2.2l-2.2-2.2zM866.8 46.3l2.2 2.2l-2.2 2.2l-2.2-2.2zM881.4 47.4l2.2 2.2l-2.2 2.2l-2.2-2.2zM879.0 50.2l2.2 2.2l-2.2 2.2l-2.2-2.2zM906.1 51.5l2.2 2.2l-2.2 2.2l-2.2-2.2zM851.5 51.5l2.2 2.2l-2.2 2.2l-2.2-2.2zM854.7 52.8l2.2 2.2l-2.2 2.2l-2.2-2.2zM858.8 51.2l2.2 2.2l-2.2 2.2l-2.2-2.2zM869.3 53.1l2.2 2.2l-2.2 2.2l-2.2-2.2zM873.3 52.3l2.2 2.2l-2.2 2.2l-2.2-2.2zM850.7 56.3l2.2 2.2l-2.2 2.2l-2.2-2.2zM880.6 55.5l2.2 2.2l-2.2 2.2l-2.2-2.2zM879.8 57.1l2.2 2.2l-2.2 2.2l-2.2-2.2zM889.0 58.8l2.2 2.2l-2.2 2.2l-2.2-2.2zM857.1 59.6l2.2 2.2l-2.2 2.2l-2.2-2.2zM860.4 57.9l2.2 2.2l-2.2 2.2l-2.2-2.2zM863.6 59.2l2.2 2.2l-2.2 2.2l-2.2-2.2zM869.3 59.9l2.2 2.2l-2.2 2.2l-2.2-2.2zM875.7 60.4l2.2 2.2l-2.2 2.2l-2.2-2.2zM877.4 62.8l2.2 2.2l-2.2 2.2l-2.2-2.2zM856.3 66.0l2.2 2.2l-2.2 2.2l-2.2-2.2zM857.9 68.9l2.2 2.2l-2.2 2.2l-2.2-2.2zM872.8 67.3l2.2 2.2l-2.2 2.2l-2.2-2.2zM881.4 71.2l2.2 2.2l-2.2 2.2l-2.2-2.2zM868.9 72.5l2.2 2.2l-2.2 2.2l-2.2-2.2zM785.8 74.6l2.2 2.2l-2.2 2.2l-2.2-2.2zM796.0 73.0l2.2 2.2l-2.2 2.2l-2.2-2.2zM800.5 74.3l2.2 2.2l-2.2 2.2l-2.2-2.2zM820.7 75.6l2.2 2.2l-2.2 2.2l-2.2-2.2zM839.6 73.9l2.2 2.2l-2.2 2.2l-2.2-2.2zM833.5 77.2l2.2 2.2l-2.2 2.2l-2.2-2.2zM797.1 79.9l2.2 2.2l-2.2 2.2l-2.2-2.2zM802.4 79.9l2.2 2.2l-2.2 2.2l-2.2-2.2zM771.2 84.8l2.2 2.2l-2.2 2.2l-2.2-2.2zM810.8 84.0l2.2 2.2l-2.2 2.2l-2.2-2.2zM820.2 84.3l2.2 2.2l-2.2 2.2l-2.2-2.2zM816.2 87.7l2.2 2.2l-2.2 2.2l-2.2-2.2zM823.5 90.1l2.2 2.2l-2.2 2.2l-2.2-2.2zM794.3 89.6l2.2 2.2l-2.2 2.2l-2.2-2.2zM760.9 90.9l2.2 2.2l-2.2 2.2l-2.2-2.2zM766.0 94.5l2.2 2.2l-2.2 2.2l-2.2-2.2zM787.9 99.7l2.2 2.2l-2.2 2.2l-2.2-2.2zM748.6 103.4l2.2 2.2l-2.2 2.2l-2.2-2.2zM753.1 105.8l2.2 2.2l-2.2 2.2l-2.2-2.2zM759.1 103.4l2.2 2.2l-2.2 2.2l-2.2-2.2zM772.0 114.4l2.2 2.2l-2.2 2.2l-2.2-2.2zM760.0 122.0l2.2 2.2l-2.2 2.2l-2.2-2.2zM873.8 74.3l2.2 2.2l-2.2 2.2l-2.2-2.2zM853.4 78.8l2.2 2.2l-2.2 2.2l-2.2-2.2zM849.0 48.2l2.2 2.2l-2.2 2.2l-2.2-2.2zM853.1 49.0l2.2 2.2l-2.2 2.2l-2.2-2.2zM856.3 54.7l2.2 2.2l-2.2 2.2l-2.2-2.2zM860.4 54.7l2.2 2.2l-2.2 2.2l-2.2-2.2zM853.9 57.1l2.2 2.2l-2.2 2.2l-2.2-2.2zM849.9 53.1l2.2 2.2l-2.2 2.2l-2.2-2.2zM862.8 56.3l2.2 2.2l-2.2 2.2l-2.2-2.2zM866.0 56.3l2.2 2.2l-2.2 2.2l-2.2-2.2zM854.7 61.2l2.2 2.2l-2.2 2.2l-2.2-2.2zM859.6 62.0l2.2 2.2l-2.2 2.2l-2.2-2.2zM848.2 59.6l2.2 2.2l-2.2 2.2l-2.2-2.2zM872.5 35.3l2.2 2.2l-2.2 2.2l-2.2-2.2zM876.5 36.1l2.2 2.2l-2.2 2.2l-2.2-2.2zM875.7 41.0l2.2 2.2l-2.2 2.2l-2.2-2.2zM873.3 40.2l2.2 2.2l-2.2 2.2l-2.2-2.2zM879.8 36.9l2.2 2.2l-2.2 2.2l-2.2-2.2zM864.4 49.0l2.2 2.2l-2.2 2.2l-2.2-2.2zM861.2 48.2l2.2 2.2l-2.2 2.2l-2.2-2.2zM855.5 49.0l2.2 2.2l-2.2 2.2l-2.2-2.2zM843.7 53.1l2.2 2.2l-2.2 2.2l-2.2-2.2zM848.5 53.9l2.2 2.2l-2.2 2.2l-2.2-2.2zM844.5 49.0l2.2 2.2l-2.2 2.2l-2.2-2.2zM849.3 56.3l2.2 2.2l-2.2 2.2l-2.2-2.2zM851.8 49.0l2.2 2.2l-2.2 2.2l-2.2-2.2zM841.2 52.3l2.2 2.2l-2.2 2.2l-2.2-2.2zM837.2 56.3l2.2 2.2l-2.2 2.2l-2.2-2.2zM850.1 59.6l2.2 2.2l-2.2 2.2l-2.2-2.2zM845.3 59.6l2.2 2.2l-2.2 2.2l-2.2-2.2zM842.1 66.0l2.2 2.2l-2.2 2.2l-2.2-2.2z"/>
<path class="tr" d="M748.6 99.1L756.1 96.8L763.7 94.5L771.2 92.0L778.8 89.5L786.3 86.9L793.9 84.2L801.4 81.5L808.9 78.6L816.5 75.7L824.0 72.7L831.6 69.6L839.1 66.4L846.6 63.0L854.2 59.6L861.7 56.1L869.3 52.4L876.8 48.7L884.4 44.8L891.9 40.8L899.4 36.7L907.0 32.5L914.5 28.1L922.1 23.6L929.6 18.9"/>
</g>
<g>
<rect class="bx" x="0.6" y="215.4" width="322.7" height="214.4"/>
<path class="g" d="M43.6 221.70H308.0M43.6 240.01H308.0M43.6 258.32H308.0M43.6 276.63H308.0M43.6 294.94H308.0M43.6 313.26H308.0M43.6 331.57H308.0M43.6 349.88H308.0M43.6 368.19H308.0"/>
<path class="ax" d="M43.6 221.70V386.50M43.6 386.50H308.0M41.4 221.70H43.6M41.4 240.01H43.6M41.4 258.32H43.6M41.4 276.63H43.6M41.4 294.94H43.6M41.4 313.26H43.6M41.4 331.57H43.6M41.4 349.88H43.6M41.4 368.19H43.6M41.4 386.50H43.6M43.60 386.50V388.70M70.04 386.50V388.70M96.48 386.50V388.70M122.92 386.50V388.70M149.36 386.50V388.70M175.80 386.50V388.70M202.24 386.50V388.70M228.68 386.50V388.70M255.12 386.50V388.70M281.56 386.50V388.70M308.00 386.50V388.70"/>
<text class="tl" x="37.2" y="223.72" font-size="5.6" text-anchor="end" textLength="10.8" lengthAdjust="spacingAndGlyphs">90%</text>
<text class="tl" x="37.2" y="242.03" font-size="5.6" text-anchor="end" textLength="10.8" lengthAdjust="spacingAndGlyphs">80%</text>
<text class="tl" x="37.2" y="260.34" font-size="5.6" text-anchor="end" textLength="10.8" lengthAdjust="spacingAndGlyphs">70%</text>
<text class="tl" x="37.2" y="278.65" font-size="5.6" text-anchor="end" textLength="10.8" lengthAdjust="spacingAndGlyphs">60%</text>
<text class="tl" x="37.2" y="296.96" font-size="5.6" text-anchor="end" textLength="10.8" lengthAdjust="spacingAndGlyphs">50%</text>
<text class="tl" x="37.2" y="315.27" font-size="5.6" text-anchor="end" textLength="10.8" lengthAdjust="spacingAndGlyphs">40%</text>
<text class="tl" x="37.2" y="333.58" font-size="5.6" text-anchor="end" textLength="10.8" lengthAdjust="spacingAndGlyphs">30%</text>
<text class="tl" x="37.2" y="351.89" font-size="5.6" text-anchor="end" textLength="10.8" lengthAdjust="spacingAndGlyphs">20%</text>
<text class="tl" x="37.2" y="370.20" font-size="5.6" text-anchor="end" textLength="10.8" lengthAdjust="spacingAndGlyphs">10%</text>
<text class="tl" x="37.2" y="388.52" font-size="5.6" text-anchor="end" textLength="7.8" lengthAdjust="spacingAndGlyphs">0%</text>
<text class="tl" x="43.6" y="400.6" font-size="6.5" text-anchor="middle" textLength="8.8" lengthAdjust="spacingAndGlyphs">0%</text>
<text class="tl" x="70.0" y="400.6" font-size="6.5" text-anchor="middle" textLength="12.2" lengthAdjust="spacingAndGlyphs">10%</text>
<text class="tl" x="96.5" y="400.6" font-size="6.5" text-anchor="middle" textLength="12.2" lengthAdjust="spacingAndGlyphs">20%</text>
<text class="tl" x="122.9" y="400.6" font-size="6.5" text-anchor="middle" textLength="12.2" lengthAdjust="spacingAndGlyphs">30%</text>
<text class="tl" x="149.4" y="400.6" font-size="6.5" text-anchor="middle" textLength="12.2" lengthAdjust="spacingAndGlyphs">40%</text>
<text class="tl" x="175.8" y="400.6" font-size="6.5" text-anchor="middle" textLength="12.2" lengthAdjust="spacingAndGlyphs">50%</text>
<text class="tl" x="202.2" y="400.6" font-size="6.5" text-anchor="middle" textLength="12.2" lengthAdjust="spacingAndGlyphs">60%</text>
<text class="tl" x="228.7" y="400.6" font-size="6.5" text-anchor="middle" textLength="12.2" lengthAdjust="spacingAndGlyphs">70%</text>
<text class="tl" x="255.1" y="400.6" font-size="6.5" text-anchor="middle" textLength="12.2" lengthAdjust="spacingAndGlyphs">80%</text>
<text class="tl" x="281.6" y="400.6" font-size="6.5" text-anchor="middle" textLength="12.2" lengthAdjust="spacingAndGlyphs">90%</text>
<text class="tl" x="308.0" y="400.6" font-size="6.5" text-anchor="middle" textLength="15.6" lengthAdjust="spacingAndGlyphs">100%</text>
<text class="ti" x="176.6" y="418.6" text-anchor="middle" textLength="103.6" lengthAdjust="spacingAndGlyphs">English speakers (%)</text>
<text class="ti" transform="translate(18.9 304.9) rotate(-90)" text-anchor="middle" textLength="106.0" lengthAdjust="spacingAndGlyphs">&quot;YES&quot; responses (%)</text>
<path class="p" d="M178.3 231.5l2.2 2.2l-2.2 2.2l-2.2-2.2zM194.5 254.1l2.2 2.2l-2.2 2.2l-2.2-2.2zM193.5 256.5l2.2 2.2l-2.2 2.2l-2.2-2.2zM193.6 259.8l2.2 2.2l-2.2 2.2l-2.2-2.2zM190.4 267.4l2.2 2.2l-2.2 2.2l-2.2-2.2zM207.2 265.9l2.2 2.2l-2.2 2.2l-2.2-2.2zM175.4 271.9l2.2 2.2l-2.2 2.2l-2.2-2.2zM170.0 274.8l2.2 2.2l-2.2 2.2l-2.2-2.2zM176.5 275.6l2.2 2.2l-2.2 2.2l-2.2-2.2zM197.2 273.0l2.2 2.2l-2.2 2.2l-2.2-2.2zM208.5 273.0l2.2 2.2l-2.2 2.2l-2.2-2.2zM183.8 280.5l2.2 2.2l-2.2 2.2l-2.2-2.2zM198.3 280.0l2.2 2.2l-2.2 2.2l-2.2-2.2zM172.1 284.4l2.2 2.2l-2.2 2.2l-2.2-2.2zM175.9 286.9l2.2 2.2l-2.2 2.2l-2.2-2.2zM182.3 286.9l2.2 2.2l-2.2 2.2l-2.2-2.2zM150.3 288.1l2.2 2.2l-2.2 2.2l-2.2-2.2zM216.0 234.2l2.2 2.2l-2.2 2.2l-2.2-2.2zM219.2 238.4l2.2 2.2l-2.2 2.2l-2.2-2.2zM223.1 241.5l2.2 2.2l-2.2 2.2l-2.2-2.2zM233.8 236.8l2.2 2.2l-2.2 2.2l-2.2-2.2zM238.5 239.1l2.2 2.2l-2.2 2.2l-2.2-2.2zM241.9 244.9l2.2 2.2l-2.2 2.2l-2.2-2.2zM243.8 248.9l2.2 2.2l-2.2 2.2l-2.2-2.2zM248.4 247.2l2.2 2.2l-2.2 2.2l-2.2-2.2zM246.7 251.7l2.2 2.2l-2.2 2.2l-2.2-2.2zM253.5 251.4l2.2 2.2l-2.2 2.2l-2.2-2.2zM259.5 249.7l2.2 2.2l-2.2 2.2l-2.2-2.2zM267.3 247.6l2.2 2.2l-2.2 2.2l-2.2-2.2zM219.9 249.7l2.2 2.2l-2.2 2.2l-2.2-2.2zM226.8 249.3l2.2 2.2l-2.2 2.2l-2.2-2.2zM217.6 253.0l2.2 2.2l-2.2 2.2l-2.2-2.2zM213.9 255.7l2.2 2.2l-2.2 2.2l-2.2-2.2zM219.9 253.6l2.2 2.2l-2.2 2.2l-2.2-2.2zM239.8 256.0l2.2 2.2l-2.2 2.2l-2.2-2.2zM216.6 265.1l2.2 2.2l-2.2 2.2l-2.2-2.2zM219.9 265.1l2.2 2.2l-2.2 2.2l-2.2-2.2zM227.6 264.3l2.2 2.2l-2.2 2.2l-2.2-2.2zM240.3 264.6l2.2 2.2l-2.2 2.2l-2.2-2.2zM246.6 264.3l2.2 2.2l-2.2 2.2l-2.2-2.2zM250.3 261.1l2.2 2.2l-2.2 2.2l-2.2-2.2zM255.5 260.6l2.2 2.2l-2.2 2.2l-2.2-2.2zM258.1 259.0l2.2 2.2l-2.2 2.2l-2.2-2.2zM259.7 261.7l2.2 2.2l-2.2 2.2l-2.2-2.2zM264.0 264.6l2.2 2.2l-2.2 2.2l-2.2-2.2zM239.8 267.9l2.2 2.2l-2.2 2.2l-2.2-2.2zM233.8 268.7l2.2 2.2l-2.2 2.2l-2.2-2.2zM225.7 271.1l2.2 2.2l-2.2 2.2l-2.2-2.2zM230.1 271.9l2.2 2.2l-2.2 2.2l-2.2-2.2zM219.9 271.9l2.2 2.2l-2.2 2.2l-2.2-2.2zM215.5 273.0l2.2 2.2l-2.2 2.2l-2.2-2.2zM213.9 273.8l2.2 2.2l-2.2 2.2l-2.2-2.2zM247.4 270.8l2.2 2.2l-2.2 2.2l-2.2-2.2zM253.0 268.2l2.2 2.2l-2.2 2.2l-2.2-2.2zM257.6 271.4l2.2 2.2l-2.2 2.2l-2.2-2.2zM262.4 272.7l2.2 2.2l-2.2 2.2l-2.2-2.2zM264.0 273.8l2.2 2.2l-2.2 2.2l-2.2-2.2zM245.1 275.9l2.2 2.2l-2.2 2.2l-2.2-2.2zM248.4 274.0l2.2 2.2l-2.2 2.2l-2.2-2.2zM255.6 277.6l2.2 2.2l-2.2 2.2l-2.2-2.2zM220.7 280.5l2.2 2.2l-2.2 2.2l-2.2-2.2zM225.2 277.2l2.2 2.2l-2.2 2.2l-2.2-2.2zM215.0 284.4l2.2 2.2l-2.2 2.2l-2.2-2.2zM229.3 284.4l2.2 2.2l-2.2 2.2l-2.2-2.2zM238.5 283.6l2.2 2.2l-2.2 2.2l-2.2-2.2zM249.5 281.6l2.2 2.2l-2.2 2.2l-2.2-2.2zM263.2 279.2l2.2 2.2l-2.2 2.2l-2.2-2.2zM264.0 281.6l2.2 2.2l-2.2 2.2l-2.2-2.2zM223.6 289.2l2.2 2.2l-2.2 2.2l-2.2-2.2zM270.5 286.0l2.2 2.2l-2.2 2.2l-2.2-2.2zM272.9 288.9l2.2 2.2l-2.2 2.2l-2.2-2.2zM275.4 286.9l2.2 2.2l-2.2 2.2l-2.2-2.2zM285.1 286.0l2.2 2.2l-2.2 2.2l-2.2-2.2zM267.1 248.6l2.2 2.2l-2.2 2.2l-2.2-2.2zM268.7 252.6l2.2 2.2l-2.2 2.2l-2.2-2.2zM277.1 253.2l2.2 2.2l-2.2 2.2l-2.2-2.2zM277.5 256.1l2.2 2.2l-2.2 2.2l-2.2-2.2zM281.2 258.2l2.2 2.2l-2.2 2.2l-2.2-2.2zM285.0 260.3l2.2 2.2l-2.2 2.2l-2.2-2.2zM268.5 260.1l2.2 2.2l-2.2 2.2l-2.2-2.2zM273.3 259.4l2.2 2.2l-2.2 2.2l-2.2-2.2zM275.8 259.0l2.2 2.2l-2.2 2.2l-2.2-2.2zM275.0 261.5l2.2 2.2l-2.2 2.2l-2.2-2.2zM269.2 265.3l2.2 2.2l-2.2 2.2l-2.2-2.2zM272.5 264.4l2.2 2.2l-2.2 2.2l-2.2-2.2zM267.5 268.6l2.2 2.2l-2.2 2.2l-2.2-2.2zM270.0 270.3l2.2 2.2l-2.2 2.2l-2.2-2.2zM275.8 267.8l2.2 2.2l-2.2 2.2l-2.2-2.2zM278.3 266.9l2.2 2.2l-2.2 2.2l-2.2-2.2zM280.8 266.5l2.2 2.2l-2.2 2.2l-2.2-2.2zM282.9 265.7l2.2 2.2l-2.2 2.2l-2.2-2.2zM284.1 264.4l2.2 2.2l-2.2 2.2l-2.2-2.2zM275.0 270.3l2.2 2.2l-2.2 2.2l-2.2-2.2zM277.5 269.8l2.2 2.2l-2.2 2.2l-2.2-2.2zM279.6 269.0l2.2 2.2l-2.2 2.2l-2.2-2.2zM274.1 272.7l2.2 2.2l-2.2 2.2l-2.2-2.2zM276.6 272.7l2.2 2.2l-2.2 2.2l-2.2-2.2zM278.7 272.3l2.2 2.2l-2.2 2.2l-2.2-2.2zM270.8 274.8l2.2 2.2l-2.2 2.2l-2.2-2.2zM273.7 275.7l2.2 2.2l-2.2 2.2l-2.2-2.2zM276.2 275.2l2.2 2.2l-2.2 2.2l-2.2-2.2zM278.3 274.8l2.2 2.2l-2.2 2.2l-2.2-2.2zM283.7 276.9l2.2 2.2l-2.2 2.2l-2.2-2.2zM274.1 279.8l2.2 2.2l-2.2 2.2l-2.2-2.2zM275.8 277.7l2.2 2.2l-2.2 2.2l-2.2-2.2zM266.7 281.9l2.2 2.2l-2.2 2.2l-2.2-2.2zM277.9 281.9l2.2 2.2l-2.2 2.2l-2.2-2.2zM284.1 282.3l2.2 2.2l-2.2 2.2l-2.2-2.2zM265.0 278.6l2.2 2.2l-2.2 2.2l-2.2-2.2zM167.3 293.1l2.2 2.2l-2.2 2.2l-2.2-2.2zM181.8 291.8l2.2 2.2l-2.2 2.2l-2.2-2.2zM144.3 298.7l2.2 2.2l-2.2 2.2l-2.2-2.2zM186.4 299.6l2.2 2.2l-2.2 2.2l-2.2-2.2zM177.0 302.3l2.2 2.2l-2.2 2.2l-2.2-2.2zM136.2 304.9l2.2 2.2l-2.2 2.2l-2.2-2.2zM157.9 305.5l2.2 2.2l-2.2 2.2l-2.2-2.2zM179.9 308.9l2.2 2.2l-2.2 2.2l-2.2-2.2zM133.0 314.4l2.2 2.2l-2.2 2.2l-2.2-2.2zM110.2 318.2l2.2 2.2l-2.2 2.2l-2.2-2.2zM149.0 318.2l2.2 2.2l-2.2 2.2l-2.2-2.2zM155.1 320.3l2.2 2.2l-2.2 2.2l-2.2-2.2zM118.4 329.0l2.2 2.2l-2.2 2.2l-2.2-2.2zM110.7 336.8l2.2 2.2l-2.2 2.2l-2.2-2.2zM212.3 294.7l2.2 2.2l-2.2 2.2l-2.2-2.2zM263.2 299.1l2.2 2.2l-2.2 2.2l-2.2-2.2zM276.7 304.1l2.2 2.2l-2.2 2.2l-2.2-2.2zM272.5 294.2l2.2 2.2l-2.2 2.2l-2.2-2.2zM277.8 291.9l2.2 2.2l-2.2 2.2l-2.2-2.2zM276.2 266.2l2.2 2.2l-2.2 2.2l-2.2-2.2zM278.6 267.9l2.2 2.2l-2.2 2.2l-2.2-2.2zM277.0 271.1l2.2 2.2l-2.2 2.2l-2.2-2.2zM279.4 270.3l2.2 2.2l-2.2 2.2l-2.2-2.2zM275.4 273.5l2.2 2.2l-2.2 2.2l-2.2-2.2zM277.0 277.6l2.2 2.2l-2.2 2.2l-2.2-2.2zM281.8 264.6l2.2 2.2l-2.2 2.2l-2.2-2.2zM273.8 271.1l2.2 2.2l-2.2 2.2l-2.2-2.2zM272.1 279.2l2.2 2.2l-2.2 2.2l-2.2-2.2zM276.2 280.0l2.2 2.2l-2.2 2.2l-2.2-2.2zM280.2 272.7l2.2 2.2l-2.2 2.2l-2.2-2.2zM282.6 268.7l2.2 2.2l-2.2 2.2l-2.2-2.2z"/>
<path class="tr" d="M109.9 301.3L117.2 300.0L124.5 298.7L131.8 297.4L139.1 296.1L146.4 294.7L153.8 293.4L161.1 292.0L168.4 290.6L175.7 289.1L183.0 287.7L190.3 286.2L197.6 284.7L204.9 283.2L212.2 281.7L219.5 280.1L226.8 278.5L234.1 276.9L241.5 275.2L248.8 273.6L256.1 271.9L263.4 270.2L270.7 268.5L278.0 266.7L285.3 264.9"/>
</g>
<g>
<rect class="bx" x="323.3" y="215.4" width="319.2" height="214.4"/>
<path class="g" d="M367.0 221.70H632.4M367.0 240.01H632.4M367.0 258.32H632.4M367.0 276.63H632.4M367.0 294.94H632.4M367.0 313.26H632.4M367.0 331.57H632.4M367.0 349.88H632.4M367.0 368.19H632.4"/>
<path class="ax" d="M367.0 221.70V386.50M367.0 386.50H632.4M364.8 221.70H367.0M364.8 240.01H367.0M364.8 258.32H367.0M364.8 276.63H367.0M364.8 294.94H367.0M364.8 313.26H367.0M364.8 331.57H367.0M364.8 349.88H367.0M364.8 368.19H367.0M364.8 386.50H367.0M367.00 386.50V388.70M411.23 386.50V388.70M455.47 386.50V388.70M499.70 386.50V388.70M543.93 386.50V388.70M588.17 386.50V388.70M632.40 386.50V388.70"/>
<text class="tl" x="360.6" y="223.72" font-size="5.6" text-anchor="end" textLength="10.8" lengthAdjust="spacingAndGlyphs">90%</text>
<text class="tl" x="360.6" y="242.03" font-size="5.6" text-anchor="end" textLength="10.8" lengthAdjust="spacingAndGlyphs">80%</text>
<text class="tl" x="360.6" y="260.34" font-size="5.6" text-anchor="end" textLength="10.8" lengthAdjust="spacingAndGlyphs">70%</text>
<text class="tl" x="360.6" y="278.65" font-size="5.6" text-anchor="end" textLength="10.8" lengthAdjust="spacingAndGlyphs">60%</text>
<text class="tl" x="360.6" y="296.96" font-size="5.6" text-anchor="end" textLength="10.8" lengthAdjust="spacingAndGlyphs">50%</text>
<text class="tl" x="360.6" y="315.27" font-size="5.6" text-anchor="end" textLength="10.8" lengthAdjust="spacingAndGlyphs">40%</text>
<text class="tl" x="360.6" y="333.58" font-size="5.6" text-anchor="end" textLength="10.8" lengthAdjust="spacingAndGlyphs">30%</text>
<text class="tl" x="360.6" y="351.89" font-size="5.6" text-anchor="end" textLength="10.8" lengthAdjust="spacingAndGlyphs">20%</text>
<text class="tl" x="360.6" y="370.20" font-size="5.6" text-anchor="end" textLength="10.8" lengthAdjust="spacingAndGlyphs">10%</text>
<text class="tl" x="360.6" y="388.52" font-size="5.6" text-anchor="end" textLength="7.8" lengthAdjust="spacingAndGlyphs">0%</text>
<text class="tl" x="367.0" y="400.6" font-size="6.5" text-anchor="middle" textLength="8.9" lengthAdjust="spacingAndGlyphs">0%</text>
<text class="tl" x="411.2" y="400.6" font-size="6.5" text-anchor="middle" textLength="8.9" lengthAdjust="spacingAndGlyphs">5%</text>
<text class="tl" x="455.5" y="400.6" font-size="6.5" text-anchor="middle" textLength="12.3" lengthAdjust="spacingAndGlyphs">10%</text>
<text class="tl" x="499.7" y="400.6" font-size="6.5" text-anchor="middle" textLength="12.3" lengthAdjust="spacingAndGlyphs">15%</text>
<text class="tl" x="543.9" y="400.6" font-size="6.5" text-anchor="middle" textLength="12.3" lengthAdjust="spacingAndGlyphs">20%</text>
<text class="tl" x="588.2" y="400.6" font-size="6.5" text-anchor="middle" textLength="12.3" lengthAdjust="spacingAndGlyphs">25%</text>
<text class="tl" x="632.4" y="400.6" font-size="6.5" text-anchor="middle" textLength="12.3" lengthAdjust="spacingAndGlyphs">30%</text>
<text class="ti" x="500.1" y="418.6" text-anchor="middle" textLength="164.6" lengthAdjust="spacingAndGlyphs">A$91,000+/yr salary earners (%)</text>
<text class="ti" transform="translate(344.6 302.7) rotate(-90)" text-anchor="middle" textLength="85.5" lengthAdjust="spacingAndGlyphs">&quot;YES&quot; responses</text>
<path class="p" d="M455.8 247.6l2.2 2.2l-2.2 2.2l-2.2-2.2zM440.1 249.7l2.2 2.2l-2.2 2.2l-2.2-2.2zM478.5 250.1l2.2 2.2l-2.2 2.2l-2.2-2.2zM435.8 252.5l2.2 2.2l-2.2 2.2l-2.2-2.2zM438.0 253.3l2.2 2.2l-2.2 2.2l-2.2-2.2zM453.1 254.1l2.2 2.2l-2.2 2.2l-2.2-2.2zM454.7 256.5l2.2 2.2l-2.2 2.2l-2.2-2.2zM423.2 255.7l2.2 2.2l-2.2 2.2l-2.2-2.2zM427.2 256.5l2.2 2.2l-2.2 2.2l-2.2-2.2zM473.0 256.0l2.2 2.2l-2.2 2.2l-2.2-2.2zM484.6 256.0l2.2 2.2l-2.2 2.2l-2.2-2.2zM405.7 259.8l2.2 2.2l-2.2 2.2l-2.2-2.2zM417.2 260.1l2.2 2.2l-2.2 2.2l-2.2-2.2zM422.4 259.8l2.2 2.2l-2.2 2.2l-2.2-2.2zM428.0 259.4l2.2 2.2l-2.2 2.2l-2.2-2.2zM436.6 260.6l2.2 2.2l-2.2 2.2l-2.2-2.2zM443.9 260.6l2.2 2.2l-2.2 2.2l-2.2-2.2zM456.8 259.0l2.2 2.2l-2.2 2.2l-2.2-2.2zM459.2 259.8l2.2 2.2l-2.2 2.2l-2.2-2.2zM464.7 260.3l2.2 2.2l-2.2 2.2l-2.2-2.2zM421.9 264.3l2.2 2.2l-2.2 2.2l-2.2-2.2zM425.6 264.6l2.2 2.2l-2.2 2.2l-2.2-2.2zM429.3 265.4l2.2 2.2l-2.2 2.2l-2.2-2.2zM434.5 264.6l2.2 2.2l-2.2 2.2l-2.2-2.2zM441.8 264.6l2.2 2.2l-2.2 2.2l-2.2-2.2zM444.2 263.8l2.2 2.2l-2.2 2.2l-2.2-2.2zM452.3 264.6l2.2 2.2l-2.2 2.2l-2.2-2.2zM455.5 263.8l2.2 2.2l-2.2 2.2l-2.2-2.2zM456.6 262.2l2.2 2.2l-2.2 2.2l-2.2-2.2zM473.0 265.4l2.2 2.2l-2.2 2.2l-2.2-2.2zM491.1 267.4l2.2 2.2l-2.2 2.2l-2.2-2.2zM413.1 268.7l2.2 2.2l-2.2 2.2l-2.2-2.2zM415.9 270.3l2.2 2.2l-2.2 2.2l-2.2-2.2zM428.0 268.7l2.2 2.2l-2.2 2.2l-2.2-2.2zM430.4 267.9l2.2 2.2l-2.2 2.2l-2.2-2.2zM432.4 269.2l2.2 2.2l-2.2 2.2l-2.2-2.2zM436.1 267.0l2.2 2.2l-2.2 2.2l-2.2-2.2zM438.5 270.3l2.2 2.2l-2.2 2.2l-2.2-2.2zM445.0 268.7l2.2 2.2l-2.2 2.2l-2.2-2.2zM451.5 267.9l2.2 2.2l-2.2 2.2l-2.2-2.2zM453.9 268.7l2.2 2.2l-2.2 2.2l-2.2-2.2zM403.3 272.7l2.2 2.2l-2.2 2.2l-2.2-2.2zM405.4 272.2l2.2 2.2l-2.2 2.2l-2.2-2.2zM401.6 273.5l2.2 2.2l-2.2 2.2l-2.2-2.2zM410.2 273.5l2.2 2.2l-2.2 2.2l-2.2-2.2zM411.8 272.7l2.2 2.2l-2.2 2.2l-2.2-2.2zM417.5 272.7l2.2 2.2l-2.2 2.2l-2.2-2.2zM420.7 274.3l2.2 2.2l-2.2 2.2l-2.2-2.2zM428.8 271.9l2.2 2.2l-2.2 2.2l-2.2-2.2zM431.2 273.5l2.2 2.2l-2.2 2.2l-2.2-2.2zM438.5 272.7l2.2 2.2l-2.2 2.2l-2.2-2.2zM445.0 271.1l2.2 2.2l-2.2 2.2l-2.2-2.2zM456.3 271.9l2.2 2.2l-2.2 2.2l-2.2-2.2zM459.9 274.3l2.2 2.2l-2.2 2.2l-2.2-2.2zM468.8 271.9l2.2 2.2l-2.2 2.2l-2.2-2.2zM470.9 273.0l2.2 2.2l-2.2 2.2l-2.2-2.2zM401.3 277.2l2.2 2.2l-2.2 2.2l-2.2-2.2zM406.2 278.9l2.2 2.2l-2.2 2.2l-2.2-2.2zM418.3 274.3l2.2 2.2l-2.2 2.2l-2.2-2.2zM429.6 275.1l2.2 2.2l-2.2 2.2l-2.2-2.2zM441.8 275.9l2.2 2.2l-2.2 2.2l-2.2-2.2zM446.1 277.6l2.2 2.2l-2.2 2.2l-2.2-2.2zM431.7 281.6l2.2 2.2l-2.2 2.2l-2.2-2.2zM440.1 280.3l2.2 2.2l-2.2 2.2l-2.2-2.2zM483.0 277.6l2.2 2.2l-2.2 2.2l-2.2-2.2zM469.6 280.0l2.2 2.2l-2.2 2.2l-2.2-2.2zM455.8 281.6l2.2 2.2l-2.2 2.2l-2.2-2.2zM446.1 283.7l2.2 2.2l-2.2 2.2l-2.2-2.2zM455.5 285.3l2.2 2.2l-2.2 2.2l-2.2-2.2zM489.0 283.7l2.2 2.2l-2.2 2.2l-2.2-2.2zM410.5 285.3l2.2 2.2l-2.2 2.2l-2.2-2.2zM416.2 286.9l2.2 2.2l-2.2 2.2l-2.2-2.2zM418.3 285.7l2.2 2.2l-2.2 2.2l-2.2-2.2zM423.2 286.9l2.2 2.2l-2.2 2.2l-2.2-2.2zM421.1 289.2l2.2 2.2l-2.2 2.2l-2.2-2.2zM424.8 288.1l2.2 2.2l-2.2 2.2l-2.2-2.2zM407.0 288.1l2.2 2.2l-2.2 2.2l-2.2-2.2zM412.2 286.9l2.2 2.2l-2.2 2.2l-2.2-2.2zM460.7 290.2l2.2 2.2l-2.2 2.2l-2.2-2.2zM489.8 287.8l2.2 2.2l-2.2 2.2l-2.2-2.2zM495.7 231.5l2.2 2.2l-2.2 2.2l-2.2-2.2zM537.2 231.5l2.2 2.2l-2.2 2.2l-2.2-2.2zM543.9 234.2l2.2 2.2l-2.2 2.2l-2.2-2.2zM523.2 239.1l2.2 2.2l-2.2 2.2l-2.2-2.2zM539.0 238.3l2.2 2.2l-2.2 2.2l-2.2-2.2zM541.0 241.2l2.2 2.2l-2.2 2.2l-2.2-2.2zM592.4 236.8l2.2 2.2l-2.2 2.2l-2.2-2.2zM508.6 244.4l2.2 2.2l-2.2 2.2l-2.2-2.2zM528.3 244.9l2.2 2.2l-2.2 2.2l-2.2-2.2zM507.8 249.3l2.2 2.2l-2.2 2.2l-2.2-2.2zM526.9 248.9l2.2 2.2l-2.2 2.2l-2.2-2.2zM531.7 249.7l2.2 2.2l-2.2 2.2l-2.2-2.2zM572.0 247.2l2.2 2.2l-2.2 2.2l-2.2-2.2zM504.6 251.4l2.2 2.2l-2.2 2.2l-2.2-2.2zM504.2 253.8l2.2 2.2l-2.2 2.2l-2.2-2.2zM552.3 252.5l2.2 2.2l-2.2 2.2l-2.2-2.2zM587.9 253.0l2.2 2.2l-2.2 2.2l-2.2-2.2zM498.4 260.1l2.2 2.2l-2.2 2.2l-2.2-2.2zM500.5 259.8l2.2 2.2l-2.2 2.2l-2.2-2.2zM502.6 264.9l2.2 2.2l-2.2 2.2l-2.2-2.2zM498.9 271.9l2.2 2.2l-2.2 2.2l-2.2-2.2zM545.5 273.5l2.2 2.2l-2.2 2.2l-2.2-2.2zM513.9 275.9l2.2 2.2l-2.2 2.2l-2.2-2.2zM508.6 284.5l2.2 2.2l-2.2 2.2l-2.2-2.2zM402.6 291.8l2.2 2.2l-2.2 2.2l-2.2-2.2zM428.3 294.2l2.2 2.2l-2.2 2.2l-2.2-2.2zM424.3 298.7l2.2 2.2l-2.2 2.2l-2.2-2.2zM485.1 293.1l2.2 2.2l-2.2 2.2l-2.2-2.2zM452.0 299.6l2.2 2.2l-2.2 2.2l-2.2-2.2zM448.6 302.0l2.2 2.2l-2.2 2.2l-2.2-2.2zM442.1 304.7l2.2 2.2l-2.2 2.2l-2.2-2.2zM414.3 304.1l2.2 2.2l-2.2 2.2l-2.2-2.2zM407.3 305.5l2.2 2.2l-2.2 2.2l-2.2-2.2zM405.4 308.9l2.2 2.2l-2.2 2.2l-2.2-2.2zM441.4 314.4l2.2 2.2l-2.2 2.2l-2.2-2.2zM398.1 318.2l2.2 2.2l-2.2 2.2l-2.2-2.2zM412.6 318.2l2.2 2.2l-2.2 2.2l-2.2-2.2zM410.7 320.1l2.2 2.2l-2.2 2.2l-2.2-2.2zM413.9 329.0l2.2 2.2l-2.2 2.2l-2.2-2.2zM398.6 336.8l2.2 2.2l-2.2 2.2l-2.2-2.2zM501.6 294.7l2.2 2.2l-2.2 2.2l-2.2-2.2zM429.6 267.0l2.2 2.2l-2.2 2.2l-2.2-2.2zM432.1 271.1l2.2 2.2l-2.2 2.2l-2.2-2.2zM428.0 273.5l2.2 2.2l-2.2 2.2l-2.2-2.2zM430.4 270.3l2.2 2.2l-2.2 2.2l-2.2-2.2zM433.7 266.2l2.2 2.2l-2.2 2.2l-2.2-2.2zM427.2 265.4l2.2 2.2l-2.2 2.2l-2.2-2.2zM432.9 274.3l2.2 2.2l-2.2 2.2l-2.2-2.2zM452.3 266.2l2.2 2.2l-2.2 2.2l-2.2-2.2zM454.7 267.0l2.2 2.2l-2.2 2.2l-2.2-2.2zM453.9 265.4l2.2 2.2l-2.2 2.2l-2.2-2.2zM414.3 271.1l2.2 2.2l-2.2 2.2l-2.2-2.2zM417.5 271.1l2.2 2.2l-2.2 2.2l-2.2-2.2zM409.4 274.3l2.2 2.2l-2.2 2.2l-2.2-2.2zM404.6 274.3l2.2 2.2l-2.2 2.2l-2.2-2.2zM419.1 288.1l2.2 2.2l-2.2 2.2l-2.2-2.2zM416.7 284.8l2.2 2.2l-2.2 2.2l-2.2-2.2zM422.4 285.7l2.2 2.2l-2.2 2.2l-2.2-2.2zM436.1 263.8l2.2 2.2l-2.2 2.2l-2.2-2.2zM443.4 266.2l2.2 2.2l-2.2 2.2l-2.2-2.2zM439.3 274.3l2.2 2.2l-2.2 2.2l-2.2-2.2z"/>
<path class="tr" d="M397.3 288.4L405.4 286.6L413.6 284.8L421.7 282.9L429.9 281.0L438.0 279.1L446.2 277.1L454.3 275.1L462.5 273.1L470.6 271.0L478.8 268.9L486.9 266.7L495.0 264.5L503.2 262.3L511.3 260.0L519.5 257.7L527.6 255.3L535.8 252.9L543.9 250.5L552.1 248.0L560.2 245.4L568.4 242.8L576.5 240.2L584.7 237.5L592.8 234.8"/>
</g>
<g>
<rect class="bx" x="642.5" y="215.4" width="319.5" height="214.4"/>
<path class="g" d="M689.0 222.70H952.0M689.0 240.92H952.0M689.0 259.14H952.0M689.0 277.37H952.0M689.0 295.59H952.0M689.0 313.81H952.0M689.0 332.03H952.0M689.0 350.26H952.0M689.0 368.48H952.0"/>
<path class="ax" d="M689.0 222.70V386.70M689.0 386.70H952.0M686.8 222.70H689.0M686.8 240.92H689.0M686.8 259.14H689.0M686.8 277.37H689.0M686.8 295.59H689.0M686.8 313.81H689.0M686.8 332.03H689.0M686.8 350.26H689.0M686.8 368.48H689.0M686.8 386.70H689.0M689.00 386.70V388.90M718.22 386.70V388.90M747.44 386.70V388.90M776.67 386.70V388.90M805.89 386.70V388.90M835.11 386.70V388.90M864.33 386.70V388.90M893.56 386.70V388.90M922.78 386.70V388.90M952.00 386.70V388.90"/>
<text class="tl" x="682.6" y="225.00" font-size="6.4" text-anchor="end" textLength="12.1" lengthAdjust="spacingAndGlyphs">90%</text>
<text class="tl" x="682.6" y="243.23" font-size="6.4" text-anchor="end" textLength="12.1" lengthAdjust="spacingAndGlyphs">80%</text>
<text class="tl" x="682.6" y="261.45" font-size="6.4" text-anchor="end" textLength="12.1" lengthAdjust="spacingAndGlyphs">70%</text>
<text class="tl" x="682.6" y="279.67" font-size="6.4" text-anchor="end" textLength="12.1" lengthAdjust="spacingAndGlyphs">60%</text>
<text class="tl" x="682.6" y="297.89" font-size="6.4" text-anchor="end" textLength="12.1" lengthAdjust="spacingAndGlyphs">50%</text>
<text class="tl" x="682.6" y="316.12" font-size="6.4" text-anchor="end" textLength="12.1" lengthAdjust="spacingAndGlyphs">40%</text>
<text class="tl" x="682.6" y="334.34" font-size="6.4" text-anchor="end" textLength="12.1" lengthAdjust="spacingAndGlyphs">30%</text>
<text class="tl" x="682.6" y="352.56" font-size="6.4" text-anchor="end" textLength="12.1" lengthAdjust="spacingAndGlyphs">20%</text>
<text class="tl" x="682.6" y="370.78" font-size="6.4" text-anchor="end" textLength="12.1" lengthAdjust="spacingAndGlyphs">10%</text>
<text class="tl" x="682.6" y="389.00" font-size="6.4" text-anchor="end" textLength="8.7" lengthAdjust="spacingAndGlyphs">0%</text>
<text class="tl" x="689.0" y="400.6" font-size="6.4" text-anchor="middle" textLength="8.7" lengthAdjust="spacingAndGlyphs">0%</text>
<text class="tl" x="718.2" y="400.6" font-size="6.4" text-anchor="middle" textLength="8.7" lengthAdjust="spacingAndGlyphs">5%</text>
<text class="tl" x="747.4" y="400.6" font-size="6.4" text-anchor="middle" textLength="12.1" lengthAdjust="spacingAndGlyphs">10%</text>
<text class="tl" x="776.7" y="400.6" font-size="6.4" text-anchor="middle" textLength="12.1" lengthAdjust="spacingAndGlyphs">15%</text>
<text class="tl" x="805.9" y="400.6" font-size="6.4" text-anchor="middle" textLength="12.1" lengthAdjust="spacingAndGlyphs">20%</text>
<text class="tl" x="835.1" y="400.6" font-size="6.4" text-anchor="middle" textLength="12.1" lengthAdjust="spacingAndGlyphs">25%</text>
<text class="tl" x="864.3" y="400.6" font-size="6.4" text-anchor="middle" textLength="12.1" lengthAdjust="spacingAndGlyphs">30%</text>
<text class="tl" x="893.6" y="400.6" font-size="6.4" text-anchor="middle" textLength="12.1" lengthAdjust="spacingAndGlyphs">35%</text>
<text class="tl" x="922.8" y="400.6" font-size="6.4" text-anchor="middle" textLength="12.1" lengthAdjust="spacingAndGlyphs">40%</text>
<text class="tl" x="952.0" y="400.6" font-size="6.4" text-anchor="middle" textLength="12.1" lengthAdjust="spacingAndGlyphs">45%</text>
<text class="ti" x="822.0" y="418.6" text-anchor="middle" textLength="166.2" lengthAdjust="spacingAndGlyphs">Completed higher education (%)</text>
<text class="ti" transform="translate(661.7 305.5) rotate(-90)" text-anchor="middle" textLength="87.5" lengthAdjust="spacingAndGlyphs">&quot;YES&quot; responses</text>
<path class="p" d="M806.9 248.0l2.2 2.2l-2.2 2.2l-2.2-2.2zM819.8 250.1l2.2 2.2l-2.2 2.2l-2.2-2.2zM771.3 253.0l2.2 2.2l-2.2 2.2l-2.2-2.2zM773.2 255.2l2.2 2.2l-2.2 2.2l-2.2-2.2zM775.7 258.2l2.2 2.2l-2.2 2.2l-2.2-2.2zM793.5 254.1l2.2 2.2l-2.2 2.2l-2.2-2.2zM757.4 256.5l2.2 2.2l-2.2 2.2l-2.2-2.2zM804.8 256.5l2.2 2.2l-2.2 2.2l-2.2-2.2zM745.7 260.1l2.2 2.2l-2.2 2.2l-2.2-2.2zM741.4 261.7l2.2 2.2l-2.2 2.2l-2.2-2.2zM760.8 260.6l2.2 2.2l-2.2 2.2l-2.2-2.2zM764.3 260.1l2.2 2.2l-2.2 2.2l-2.2-2.2zM770.0 260.3l2.2 2.2l-2.2 2.2l-2.2-2.2zM781.6 259.0l2.2 2.2l-2.2 2.2l-2.2-2.2zM782.1 261.4l2.2 2.2l-2.2 2.2l-2.2-2.2zM801.1 260.6l2.2 2.2l-2.2 2.2l-2.2-2.2zM812.5 260.9l2.2 2.2l-2.2 2.2l-2.2-2.2zM819.8 260.3l2.2 2.2l-2.2 2.2l-2.2-2.2zM738.8 265.1l2.2 2.2l-2.2 2.2l-2.2-2.2zM740.9 266.2l2.2 2.2l-2.2 2.2l-2.2-2.2zM744.9 264.6l2.2 2.2l-2.2 2.2l-2.2-2.2zM764.0 264.6l2.2 2.2l-2.2 2.2l-2.2-2.2zM774.5 264.6l2.2 2.2l-2.2 2.2l-2.2-2.2zM777.3 265.1l2.2 2.2l-2.2 2.2l-2.2-2.2zM781.3 266.2l2.2 2.2l-2.2 2.2l-2.2-2.2zM784.6 267.9l2.2 2.2l-2.2 2.2l-2.2-2.2zM788.1 265.4l2.2 2.2l-2.2 2.2l-2.2-2.2zM788.6 268.2l2.2 2.2l-2.2 2.2l-2.2-2.2zM794.3 265.4l2.2 2.2l-2.2 2.2l-2.2-2.2zM799.9 264.6l2.2 2.2l-2.2 2.2l-2.2-2.2zM806.9 268.7l2.2 2.2l-2.2 2.2l-2.2-2.2zM748.2 268.2l2.2 2.2l-2.2 2.2l-2.2-2.2zM752.2 268.2l2.2 2.2l-2.2 2.2l-2.2-2.2zM755.4 269.2l2.2 2.2l-2.2 2.2l-2.2-2.2zM758.7 270.3l2.2 2.2l-2.2 2.2l-2.2-2.2zM761.9 269.2l2.2 2.2l-2.2 2.2l-2.2-2.2zM764.3 269.5l2.2 2.2l-2.2 2.2l-2.2-2.2zM766.8 270.3l2.2 2.2l-2.2 2.2l-2.2-2.2zM749.0 271.1l2.2 2.2l-2.2 2.2l-2.2-2.2zM746.5 272.7l2.2 2.2l-2.2 2.2l-2.2-2.2zM726.6 273.2l2.2 2.2l-2.2 2.2l-2.2-2.2zM732.5 274.0l2.2 2.2l-2.2 2.2l-2.2-2.2zM735.7 276.8l2.2 2.2l-2.2 2.2l-2.2-2.2zM737.6 275.1l2.2 2.2l-2.2 2.2l-2.2-2.2zM740.9 274.3l2.2 2.2l-2.2 2.2l-2.2-2.2zM744.9 274.3l2.2 2.2l-2.2 2.2l-2.2-2.2zM753.0 273.5l2.2 2.2l-2.2 2.2l-2.2-2.2zM753.8 275.6l2.2 2.2l-2.2 2.2l-2.2-2.2zM761.9 272.7l2.2 2.2l-2.2 2.2l-2.2-2.2zM765.1 273.8l2.2 2.2l-2.2 2.2l-2.2-2.2zM775.2 274.0l2.2 2.2l-2.2 2.2l-2.2-2.2zM799.4 271.1l2.2 2.2l-2.2 2.2l-2.2-2.2zM812.5 273.0l2.2 2.2l-2.2 2.2l-2.2-2.2zM810.8 275.6l2.2 2.2l-2.2 2.2l-2.2-2.2zM805.9 275.1l2.2 2.2l-2.2 2.2l-2.2-2.2zM740.1 278.4l2.2 2.2l-2.2 2.2l-2.2-2.2zM741.7 280.8l2.2 2.2l-2.2 2.2l-2.2-2.2zM753.0 277.6l2.2 2.2l-2.2 2.2l-2.2-2.2zM759.5 277.2l2.2 2.2l-2.2 2.2l-2.2-2.2zM769.7 280.5l2.2 2.2l-2.2 2.2l-2.2-2.2zM798.3 277.9l2.2 2.2l-2.2 2.2l-2.2-2.2zM795.4 281.1l2.2 2.2l-2.2 2.2l-2.2-2.2zM800.7 284.0l2.2 2.2l-2.2 2.2l-2.2-2.2zM735.2 285.7l2.2 2.2l-2.2 2.2l-2.2-2.2zM737.6 286.9l2.2 2.2l-2.2 2.2l-2.2-2.2zM740.1 286.0l2.2 2.2l-2.2 2.2l-2.2-2.2zM742.5 284.8l2.2 2.2l-2.2 2.2l-2.2-2.2zM744.9 282.4l2.2 2.2l-2.2 2.2l-2.2-2.2zM747.4 284.4l2.2 2.2l-2.2 2.2l-2.2-2.2zM751.9 281.6l2.2 2.2l-2.2 2.2l-2.2-2.2zM763.0 284.4l2.2 2.2l-2.2 2.2l-2.2-2.2zM760.8 286.9l2.2 2.2l-2.2 2.2l-2.2-2.2zM778.1 286.9l2.2 2.2l-2.2 2.2l-2.2-2.2zM729.9 287.3l2.2 2.2l-2.2 2.2l-2.2-2.2zM732.0 289.2l2.2 2.2l-2.2 2.2l-2.2-2.2zM753.5 288.9l2.2 2.2l-2.2 2.2l-2.2-2.2zM733.6 290.5l2.2 2.2l-2.2 2.2l-2.2-2.2zM926.9 231.8l2.2 2.2l-2.2 2.2l-2.2-2.2zM918.5 234.7l2.2 2.2l-2.2 2.2l-2.2-2.2zM920.4 237.1l2.2 2.2l-2.2 2.2l-2.2-2.2zM922.1 241.7l2.2 2.2l-2.2 2.2l-2.2-2.2zM893.8 239.6l2.2 2.2l-2.2 2.2l-2.2-2.2zM899.1 238.7l2.2 2.2l-2.2 2.2l-2.2-2.2zM876.4 244.9l2.2 2.2l-2.2 2.2l-2.2-2.2zM888.9 247.6l2.2 2.2l-2.2 2.2l-2.2-2.2zM844.9 250.4l2.2 2.2l-2.2 2.2l-2.2-2.2zM860.9 249.6l2.2 2.2l-2.2 2.2l-2.2-2.2zM868.2 249.6l2.2 2.2l-2.2 2.2l-2.2-2.2zM883.7 251.7l2.2 2.2l-2.2 2.2l-2.2-2.2zM916.4 250.1l2.2 2.2l-2.2 2.2l-2.2-2.2zM901.4 252.5l2.2 2.2l-2.2 2.2l-2.2-2.2zM930.6 253.6l2.2 2.2l-2.2 2.2l-2.2-2.2zM849.8 254.1l2.2 2.2l-2.2 2.2l-2.2-2.2zM853.3 254.9l2.2 2.2l-2.2 2.2l-2.2-2.2zM854.4 256.9l2.2 2.2l-2.2 2.2l-2.2-2.2zM860.1 256.5l2.2 2.2l-2.2 2.2l-2.2-2.2zM827.9 259.8l2.2 2.2l-2.2 2.2l-2.2-2.2zM834.7 264.3l2.2 2.2l-2.2 2.2l-2.2-2.2zM830.7 266.2l2.2 2.2l-2.2 2.2l-2.2-2.2zM858.5 267.9l2.2 2.2l-2.2 2.2l-2.2-2.2zM836.3 272.2l2.2 2.2l-2.2 2.2l-2.2-2.2zM845.5 272.2l2.2 2.2l-2.2 2.2l-2.2-2.2zM850.1 273.5l2.2 2.2l-2.2 2.2l-2.2-2.2zM867.4 272.2l2.2 2.2l-2.2 2.2l-2.2-2.2zM909.6 273.8l2.2 2.2l-2.2 2.2l-2.2-2.2zM840.9 280.5l2.2 2.2l-2.2 2.2l-2.2-2.2zM855.7 284.8l2.2 2.2l-2.2 2.2l-2.2-2.2zM875.6 288.1l2.2 2.2l-2.2 2.2l-2.2-2.2zM825.0 260.3l2.2 2.2l-2.2 2.2l-2.2-2.2zM738.5 291.5l2.2 2.2l-2.2 2.2l-2.2-2.2zM759.5 291.8l2.2 2.2l-2.2 2.2l-2.2-2.2zM766.8 294.7l2.2 2.2l-2.2 2.2l-2.2-2.2zM733.9 299.1l2.2 2.2l-2.2 2.2l-2.2-2.2zM734.7 304.4l2.2 2.2l-2.2 2.2l-2.2-2.2zM757.1 305.5l2.2 2.2l-2.2 2.2l-2.2-2.2zM769.2 308.9l2.2 2.2l-2.2 2.2l-2.2-2.2zM812.1 299.6l2.2 2.2l-2.2 2.2l-2.2-2.2zM815.0 298.7l2.2 2.2l-2.2 2.2l-2.2-2.2zM813.4 302.0l2.2 2.2l-2.2 2.2l-2.2-2.2zM749.0 318.2l2.2 2.2l-2.2 2.2l-2.2-2.2zM757.9 318.2l2.2 2.2l-2.2 2.2l-2.2-2.2zM756.2 320.1l2.2 2.2l-2.2 2.2l-2.2-2.2zM795.9 329.0l2.2 2.2l-2.2 2.2l-2.2-2.2zM768.9 336.8l2.2 2.2l-2.2 2.2l-2.2-2.2zM841.7 295.0l2.2 2.2l-2.2 2.2l-2.2-2.2zM833.4 304.9l2.2 2.2l-2.2 2.2l-2.2-2.2zM849.3 314.4l2.2 2.2l-2.2 2.2l-2.2-2.2zM882.4 293.6l2.2 2.2l-2.2 2.2l-2.2-2.2zM751.4 274.8l2.2 2.2l-2.2 2.2l-2.2-2.2zM757.4 267.0l2.2 2.2l-2.2 2.2l-2.2-2.2zM743.3 268.2l2.2 2.2l-2.2 2.2l-2.2-2.2zM739.3 275.9l2.2 2.2l-2.2 2.2l-2.2-2.2zM742.5 275.9l2.2 2.2l-2.2 2.2l-2.2-2.2zM736.8 277.6l2.2 2.2l-2.2 2.2l-2.2-2.2zM739.3 284.8l2.2 2.2l-2.2 2.2l-2.2-2.2zM741.7 286.5l2.2 2.2l-2.2 2.2l-2.2-2.2zM744.1 285.7l2.2 2.2l-2.2 2.2l-2.2-2.2zM736.8 288.1l2.2 2.2l-2.2 2.2l-2.2-2.2zM734.4 288.1l2.2 2.2l-2.2 2.2l-2.2-2.2zM739.3 288.1l2.2 2.2l-2.2 2.2l-2.2-2.2zM756.2 277.2l2.2 2.2l-2.2 2.2l-2.2-2.2z"/>
<path class="tr" d="M726.3 286.6L734.8 285.4L743.3 284.2L751.8 282.9L760.3 281.7L768.8 280.4L777.3 279.1L785.8 277.8L794.3 276.5L802.8 275.2L811.3 273.8L819.8 272.4L828.2 271.1L836.7 269.7L845.2 268.2L853.7 266.8L862.2 265.4L870.7 263.9L879.2 262.4L887.7 260.9L896.2 259.4L904.7 257.8L913.2 256.3L921.7 254.7L930.2 253.1"/>
</g>
</svg></body></html>
